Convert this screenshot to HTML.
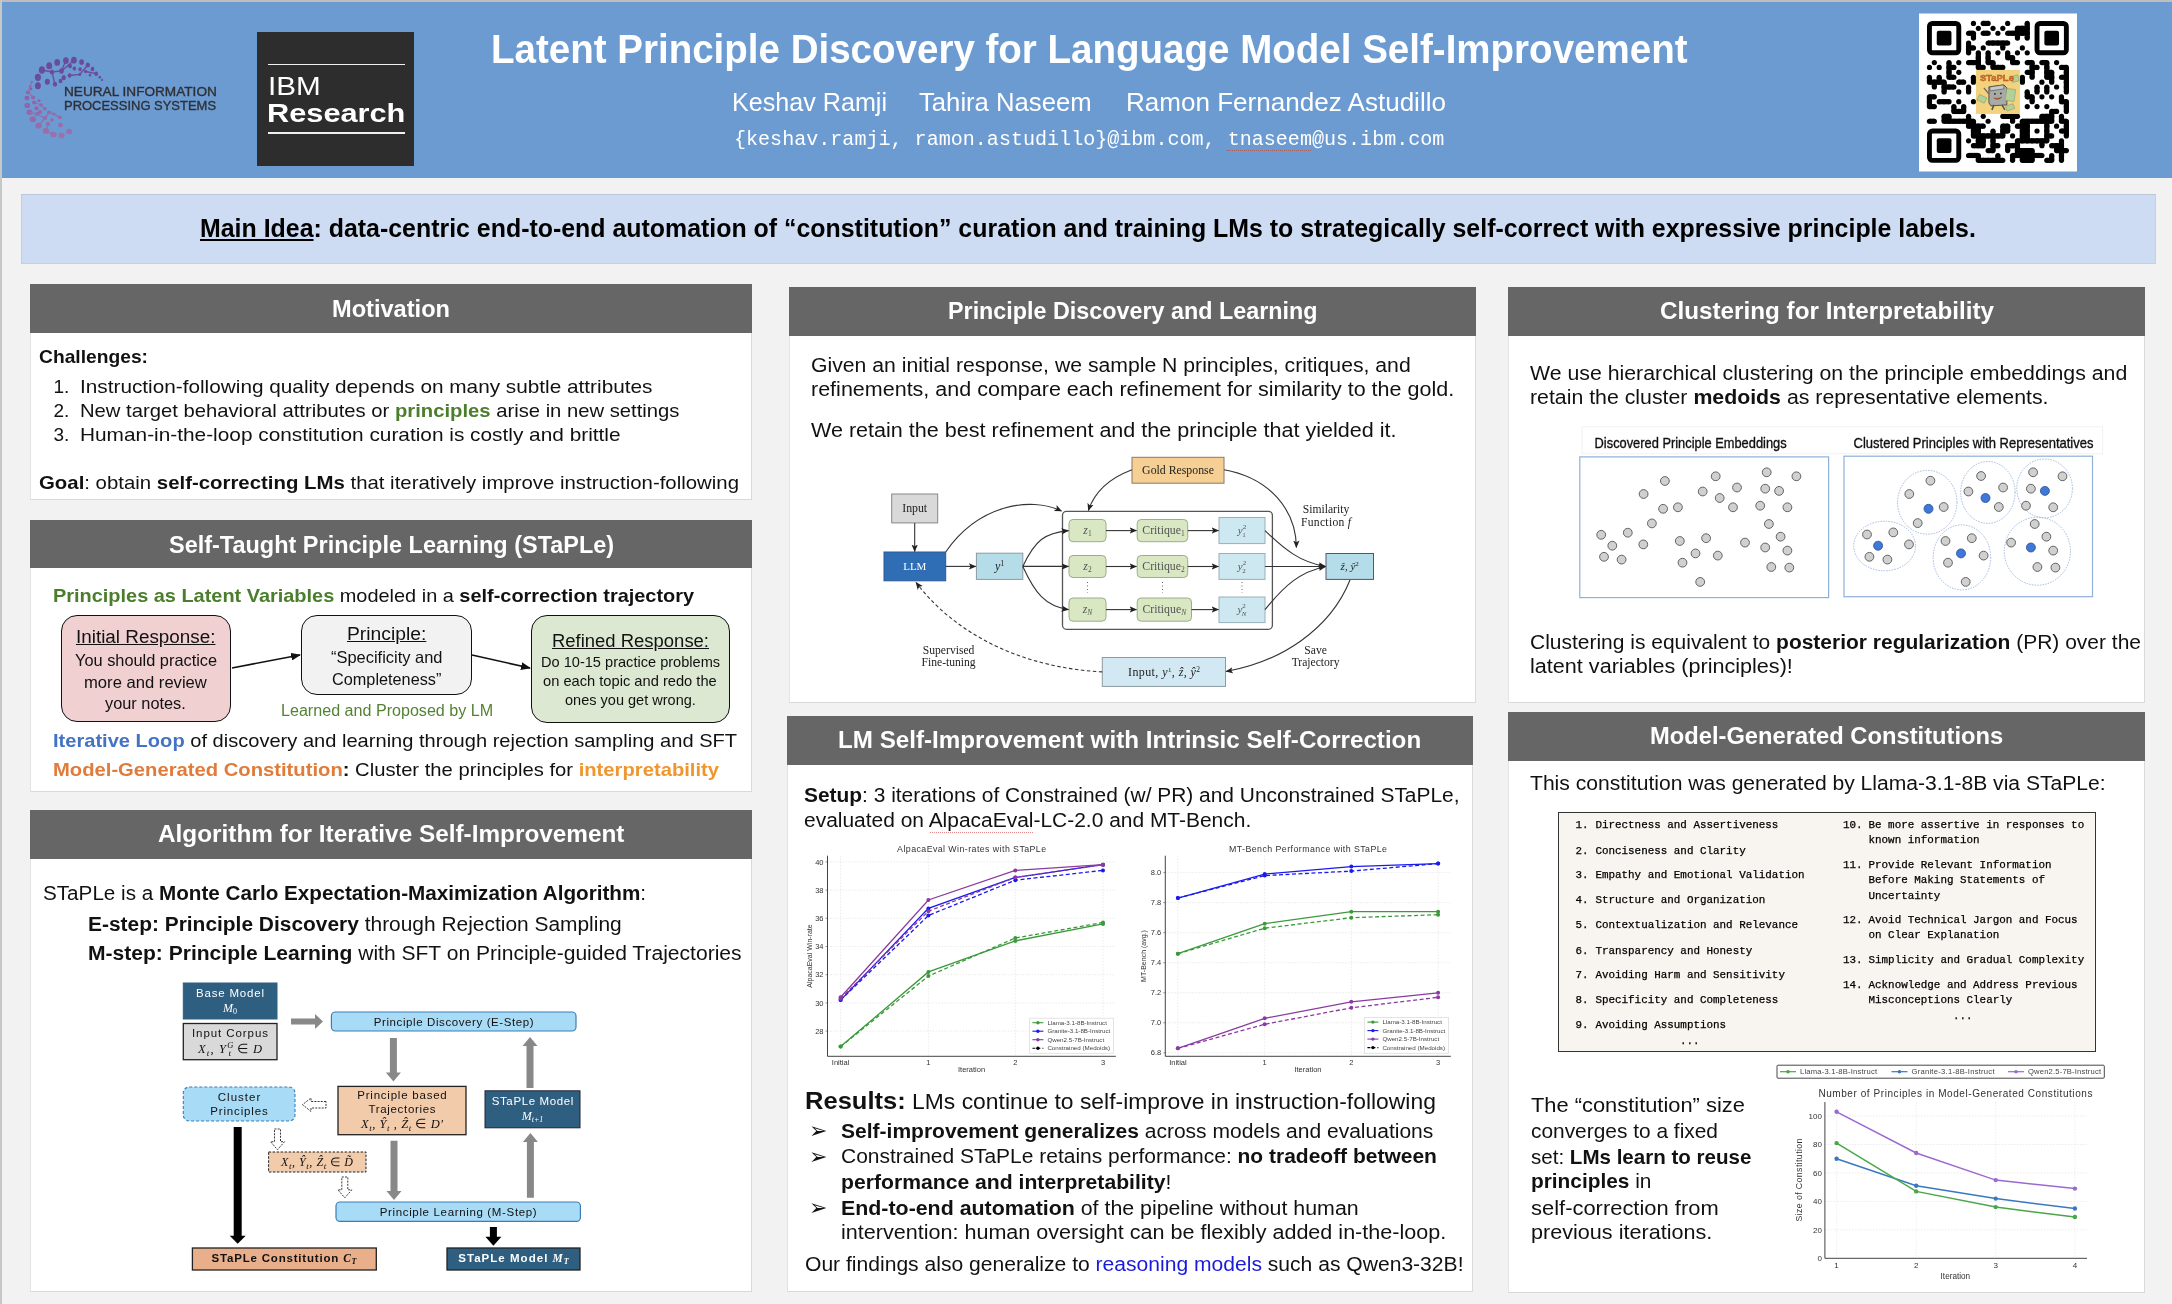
<!DOCTYPE html><html><head><meta charset="utf-8"><style>

*{margin:0;padding:0}
html,body{width:2172px;height:1304px;overflow:hidden;background:#f2f2f2;font-family:'Liberation Sans',sans-serif;color:#111}
.r{position:absolute}
.t{position:absolute;white-space:nowrap;line-height:1;transform-origin:0 0}
#wrap{position:absolute;left:0;top:0;width:2172px;height:1304px;will-change:transform}
svg{position:absolute;overflow:visible}
b{font-weight:700}
u{text-decoration:underline}

</style></head><body><div id="wrap">
<div class="r" style="left:0px;top:0px;width:2172px;height:2px;background:#bdbdbd;"></div>
<div class="r" style="left:0px;top:0px;width:2px;height:1304px;background:#c5c8c5;"></div>
<div class="r" style="left:2px;top:2px;width:2170px;height:175.6px;background:#6c9bd2;"></div>
<div class="r" style="left:21px;top:194px;width:2135px;height:70px;background:#cddbf3;border-top:1px solid #bcc6d6;border-left:1px solid #c3cde0;border-right:1px solid #c3d0e8;border-bottom:1px solid #c3d0e8;box-sizing:border-box;"></div>
<div class="r" style="left:30px;top:284px;width:722px;height:216px;background:#ffffff;border-left:1.5px solid #e4e4e4;border-top:1px solid #e4e4e4;border-right:1.5px solid #dadada;border-bottom:1.5px solid #d9d9d9;box-sizing:border-box;"></div>
<div class="r" style="left:30px;top:284px;width:722px;height:49px;background:#666666;"></div>
<div class="r" style="left:30px;top:520px;width:722px;height:272px;background:#ffffff;border-left:1.5px solid #e4e4e4;border-top:1px solid #e4e4e4;border-right:1.5px solid #dadada;border-bottom:1.5px solid #d9d9d9;box-sizing:border-box;"></div>
<div class="r" style="left:30px;top:520px;width:722px;height:48px;background:#666666;"></div>
<div class="r" style="left:30px;top:809.5px;width:722px;height:482.5px;background:#ffffff;border-left:1.5px solid #e4e4e4;border-top:1px solid #e4e4e4;border-right:1.5px solid #dadada;border-bottom:1.5px solid #d9d9d9;box-sizing:border-box;"></div>
<div class="r" style="left:30px;top:809.5px;width:722px;height:49.0px;background:#666666;"></div>
<div class="r" style="left:789px;top:287px;width:687px;height:415.5px;background:#ffffff;border-left:1.5px solid #e4e4e4;border-top:1px solid #e4e4e4;border-right:1.5px solid #dadada;border-bottom:1.5px solid #d9d9d9;box-sizing:border-box;"></div>
<div class="r" style="left:789px;top:287px;width:687px;height:49px;background:#666666;"></div>
<div class="r" style="left:787px;top:715.5px;width:686px;height:576.0px;background:#ffffff;border-left:1.5px solid #e4e4e4;border-top:1px solid #e4e4e4;border-right:1.5px solid #dadada;border-bottom:1.5px solid #d9d9d9;box-sizing:border-box;"></div>
<div class="r" style="left:787px;top:715.5px;width:686px;height:49.0px;background:#666666;"></div>
<div class="r" style="left:1508px;top:287px;width:637px;height:415.5px;background:#ffffff;border-left:1.5px solid #e4e4e4;border-top:1px solid #e4e4e4;border-right:1.5px solid #dadada;border-bottom:1.5px solid #d9d9d9;box-sizing:border-box;"></div>
<div class="r" style="left:1508px;top:287px;width:637px;height:48.5px;background:#666666;"></div>
<div class="r" style="left:1508px;top:712px;width:637px;height:580.5px;background:#ffffff;border-left:1.5px solid #e4e4e4;border-top:1px solid #e4e4e4;border-right:1.5px solid #dadada;border-bottom:1.5px solid #d9d9d9;box-sizing:border-box;"></div>
<div class="r" style="left:1508px;top:712px;width:637px;height:49px;background:#666666;"></div>
<div class="t" style="left:490.60px;top:28.94px;font-size:40px;font-weight:700;color:#ffffff;transform:scaleX(0.9630);">Latent Principle Discovery for Language Model Self-Improvement</div>
<div class="t" style="left:732.30px;top:89.61px;font-size:25.5px;color:#ffffff;transform:scaleX(0.9854);">Keshav Ramji</div>
<div class="t" style="left:919.20px;top:89.61px;font-size:25.5px;color:#ffffff;transform:scaleX(1.0064);">Tahira Naseem</div>
<div class="t" style="left:1125.50px;top:89.61px;font-size:25.5px;color:#ffffff;transform:scaleX(1.0214);">Ramon Fernandez Astudillo</div>
<div class="t" style="left:734.00px;top:129.67px;font-size:20px;color:#ffffff;font-family:'Liberation Mono';transform:scaleX(1.0032);">{keshav.ramji, ramon.astudillo}@ibm.com, tnaseem@us.ibm.com</div>
<div class="t" style="left:200.40px;top:216.34px;font-size:25px;font-weight:700;color:#000;transform:scaleX(0.9964);"><u>Main Idea</u>: data-centric end-to-end automation of “constitution” curation and training LMs to strategically self-correct with expressive principle labels.</div>
<div class="t" style="left:331.90px;top:296.56px;font-size:24.5px;font-weight:700;color:#ffffff;transform:scaleX(0.9634);">Motivation</div>
<div class="t" style="left:168.50px;top:533.26px;font-size:24.5px;font-weight:700;color:#ffffff;transform:scaleX(0.9581);">Self-Taught Principle Learning (STaPLe)</div>
<div class="t" style="left:158.00px;top:821.86px;font-size:24.5px;font-weight:700;color:#ffffff;transform:scaleX(0.9932);">Algorithm for Iterative Self-Improvement</div>
<div class="t" style="left:947.70px;top:299.26px;font-size:24.5px;font-weight:700;color:#ffffff;transform:scaleX(0.9521);">Principle Discovery and Learning</div>
<div class="t" style="left:838.00px;top:728.26px;font-size:24.5px;font-weight:700;color:#ffffff;transform:scaleX(0.9871);">LM Self-Improvement with Intrinsic Self-Correction</div>
<div class="t" style="left:1659.50px;top:299.26px;font-size:24.5px;font-weight:700;color:#ffffff;transform:scaleX(0.9893);">Clustering for Interpretability</div>
<div class="t" style="left:1650.00px;top:724.26px;font-size:24.5px;font-weight:700;color:#ffffff;transform:scaleX(0.9682);">Model-Generated Constitutions</div>
<div class="t" style="left:39.40px;top:346.92px;font-size:19px;font-weight:700;color:#111111;transform:scaleX(1.0120);">Challenges:</div>
<div class="t" style="left:53.50px;top:376.92px;font-size:19px;color:#111111;">1.</div>
<div class="t" style="left:53.50px;top:400.92px;font-size:19px;color:#111111;">2.</div>
<div class="t" style="left:53.50px;top:424.92px;font-size:19px;color:#111111;">3.</div>
<div class="t" style="left:79.70px;top:376.92px;font-size:19px;color:#111111;transform:scaleX(1.0927);">Instruction-following quality depends on many subtle attributes</div>
<div class="t" style="left:79.70px;top:400.92px;font-size:19px;color:#111111;transform:scaleX(1.0650);">New target behavioral attributes or <b style="color:#4a7d2c">principles</b> arise in new settings</div>
<div class="t" style="left:79.70px;top:424.92px;font-size:19px;color:#111111;transform:scaleX(1.0961);">Human-in-the-loop constitution curation is costly and brittle</div>
<div class="t" style="left:39.40px;top:472.62px;font-size:19px;color:#111111;transform:scaleX(1.0726);"><b>Goal</b>: obtain <b>self-correcting LMs</b> that iteratively improve instruction-following</div>
<div class="t" style="left:52.70px;top:585.92px;font-size:19px;color:#111111;transform:scaleX(1.0484);"><b style="color:#4a7d2c">Principles as Latent Variables</b> modeled in a <b>self-correction trajectory</b></div>
<div class="t" style="left:52.70px;top:730.92px;font-size:19px;color:#111111;transform:scaleX(1.0567);"><b style="color:#4472c4">Iterative Loop</b> of discovery and learning through rejection sampling and SFT</div>
<div class="t" style="left:52.70px;top:759.92px;font-size:19px;color:#111111;transform:scaleX(1.0639);"><b style="color:#e07b39">Model-Generated Constitution</b><b>:</b> Cluster the principles for <b style="color:#f0962e">interpretability</b></div>
<div class="r" style="left:61px;top:614.5px;width:170px;height:107.5px;background:#f0d0d0;border:1.5px solid #111;box-sizing:border-box;border-radius:16px;"></div>
<div class="r" style="left:301px;top:615px;width:171px;height:79.5px;background:#f2f2f2;border:1.5px solid #111;box-sizing:border-box;border-radius:16px;"></div>
<div class="r" style="left:531px;top:615px;width:199px;height:107.5px;background:#dde8d2;border:1.5px solid #111;box-sizing:border-box;border-radius:16px;"></div>
<svg style="left:0;top:0" width="1" height="1"><defs><marker id="ah" markerWidth="10" markerHeight="8" refX="9" refY="4" orient="auto" markerUnits="userSpaceOnUse"><path d="M0,0 L10,4 L0,8 z" fill="#111"/></marker></defs><line x1="232" y1="668" x2="300" y2="655" stroke="#111" stroke-width="1.6" marker-end="url(#ah)"/><line x1="472" y1="655" x2="530" y2="668" stroke="#111" stroke-width="1.6" marker-end="url(#ah)"/></svg>
<div class="t" style="left:76.20px;top:628.06px;font-size:18px;color:#111111;transform:scaleX(1.0481);"><u>Initial Response:</u></div>
<div class="t" style="left:75.00px;top:651.63px;font-size:16.5px;color:#111111;transform:scaleX(0.9909);">You should practice</div>
<div class="t" style="left:84.40px;top:673.83px;font-size:16.5px;color:#111111;transform:scaleX(1.0074);">more and review</div>
<div class="t" style="left:105.00px;top:694.93px;font-size:16.5px;color:#111111;transform:scaleX(0.9902);">your notes.</div>
<div class="t" style="left:347.00px;top:625.46px;font-size:18px;color:#111111;transform:scaleX(1.0716);"><u>Principle:</u></div>
<div class="t" style="left:330.80px;top:648.83px;font-size:16.5px;color:#111111;transform:scaleX(0.9964);">“Specificity and</div>
<div class="t" style="left:331.50px;top:670.53px;font-size:16.5px;color:#111111;transform:scaleX(0.9856);">Completeness”</div>
<div class="t" style="left:551.80px;top:632.06px;font-size:18px;color:#111111;transform:scaleX(1.0255);"><u>Refined Response:</u></div>
<div class="t" style="left:540.80px;top:654.93px;font-size:14.5px;color:#111111;transform:scaleX(1.0056);">Do 10-15 practice problems</div>
<div class="t" style="left:543.00px;top:674.23px;font-size:14.5px;color:#111111;transform:scaleX(1.0116);">on each topic and redo the</div>
<div class="t" style="left:564.60px;top:692.93px;font-size:14.5px;color:#111111;transform:scaleX(1.0023);">ones you get wrong.</div>
<div class="t" style="left:281.00px;top:702.76px;font-size:16px;color:#548235;transform:scaleX(1.0062);">Learned and Proposed by LM</div>
<div class="t" style="left:43.00px;top:883.07px;font-size:20px;color:#111111;transform:scaleX(1.0329);">STaPLe is a <b>Monte Carlo Expectation-Maximization Algorithm</b>:</div>
<div class="t" style="left:88.00px;top:913.57px;font-size:20px;color:#111111;transform:scaleX(1.0459);"><b>E-step: Principle Discovery</b> through Rejection Sampling</div>
<div class="t" style="left:88.00px;top:943.07px;font-size:20px;color:#111111;transform:scaleX(1.0525);"><b>M-step: Principle Learning</b> with SFT on Principle-guided Trajectories</div>
<div class="t" style="left:811.00px;top:355.69px;font-size:19.5px;color:#111111;transform:scaleX(1.0870);">Given an initial response, we sample N principles, critiques, and</div>
<div class="t" style="left:811.00px;top:380.19px;font-size:19.5px;color:#111111;transform:scaleX(1.1029);">refinements, and compare each refinement for similarity to the gold.</div>
<div class="t" style="left:811.00px;top:421.49px;font-size:19.5px;color:#111111;transform:scaleX(1.1055);">We retain the best refinement and the principle that yielded it.</div>
<div class="t" style="left:804.00px;top:784.77px;font-size:20px;color:#111111;transform:scaleX(1.0455);"><b>Setup</b>: 3 iterations of Constrained (w/ PR) and Unconstrained STaPLe,</div>
<div class="t" style="left:804.00px;top:809.57px;font-size:20px;color:#111111;transform:scaleX(1.0475);">evaluated on AlpacaEval-LC-2.0 and MT-Bench.</div>
<div class="t" style="left:804.50px;top:1088.80px;font-size:21.5px;color:#111111;transform:scaleX(1.0639);"><b style="font-size:24px">Results:</b> LMs continue to self-improve in instruction-following</div>
<div class="t" style="left:809.00px;top:1120.38px;font-size:22px;color:#111111;">➢</div>
<div class="t" style="left:809.00px;top:1145.68px;font-size:22px;color:#111111;">➢</div>
<div class="t" style="left:809.00px;top:1197.38px;font-size:22px;color:#111111;">➢</div>
<div class="t" style="left:840.50px;top:1121.07px;font-size:20px;color:#111111;transform:scaleX(1.0509);"><b>Self-improvement generalizes</b> across models and evaluations</div>
<div class="t" style="left:840.50px;top:1146.37px;font-size:20px;color:#111111;transform:scaleX(1.0491);">Constrained STaPLe retains performance: <b>no tradeoff between</b></div>
<div class="t" style="left:840.50px;top:1172.47px;font-size:20px;color:#111111;transform:scaleX(1.0580);"><b>performance and interpretability</b>!</div>
<div class="t" style="left:840.50px;top:1198.07px;font-size:20px;color:#111111;transform:scaleX(1.0682);"><b>End-to-end automation</b> of the pipeline without human</div>
<div class="t" style="left:840.50px;top:1222.07px;font-size:20px;color:#111111;transform:scaleX(1.0779);">intervention: human oversight can be flexibly added in-the-loop.</div>
<div class="t" style="left:804.50px;top:1253.57px;font-size:20px;color:#111111;transform:scaleX(1.0539);">Our findings also generalize to <span style="color:#1a1adb">reasoning models</span> such as Qwen3-32B!</div>
<div class="t" style="left:1530.00px;top:362.57px;font-size:20px;color:#111111;transform:scaleX(1.0645);">We use hierarchical clustering on the principle embeddings and</div>
<div class="t" style="left:1530.00px;top:387.37px;font-size:20px;color:#111111;transform:scaleX(1.0649);">retain the cluster <b>medoids</b> as representative elements.</div>
<div class="t" style="left:1530.00px;top:631.77px;font-size:20px;color:#111111;transform:scaleX(1.0490);">Clustering is equivalent to <b>posterior regularization</b> (PR) over the</div>
<div class="t" style="left:1530.00px;top:656.47px;font-size:20px;color:#111111;transform:scaleX(1.0798);">latent variables (principles)!</div>
<div class="t" style="left:1530.00px;top:772.87px;font-size:20px;color:#111111;transform:scaleX(1.0546);">This constitution was generated by Llama-3.1-8B via STaPLe:</div>
<div class="t" style="left:1531.00px;top:1093.82px;font-size:21px;color:#111111;transform:scaleX(1.0410);">The “constitution” size</div>
<div class="t" style="left:1531.00px;top:1120.12px;font-size:21px;color:#111111;transform:scaleX(0.9947);">converges to a fixed</div>
<div class="t" style="left:1531.00px;top:1145.52px;font-size:21px;color:#111111;transform:scaleX(0.9787);">set: <b>LMs learn to reuse</b></div>
<div class="t" style="left:1531.00px;top:1170.22px;font-size:21px;color:#111111;transform:scaleX(0.9917);"><b>principles</b> in</div>
<div class="t" style="left:1531.00px;top:1196.52px;font-size:21px;color:#111111;transform:scaleX(1.0444);">self-correction from</div>
<div class="t" style="left:1531.00px;top:1221.22px;font-size:21px;color:#111111;transform:scaleX(1.0284);">previous iterations.</div>
<div class="r" style="left:1227px;top:149.5px;width:84px;height:1.2px;background:none;border-top:1.2px dotted #a86060;"></div>
<div class="r" style="left:930px;top:832px;width:103px;height:1.2px;background:none;border-top:1.2px dotted #e48a8a;"></div>
<svg style="left:0;top:0" width="2172" height="1304" viewBox="0 0 2172 1304"><defs><marker id="tk" markerWidth="8" markerHeight="8" refX="7" refY="4" orient="auto" markerUnits="userSpaceOnUse"><path d="M0,0.8 L7.5,4 L0,7.2 L1.8,4 z" fill="#222"/></marker></defs><rect x="1062.5" y="511.4" width="209.9000000000001" height="117.89999999999998" rx="4" fill="#fff" stroke="#555" stroke-width="1.3"/><rect x="1132" y="457.3" width="92" height="25.899999999999977" rx="0" fill="#f6cf94" stroke="#8a7a66" stroke-width="1"/><rect x="891.7" y="494" width="46.0" height="28.899999999999977" rx="0" fill="#d9d9d9" stroke="#888" stroke-width="1"/><rect x="884" y="552" width="61.700000000000045" height="28.799999999999955" rx="0" fill="#2f6db4" stroke="#2a5a95" stroke-width="1"/><rect x="976.4" y="553.2" width="46.39999999999998" height="26.199999999999932" rx="0" fill="#b5dde9" stroke="#8a9aa0" stroke-width="1"/><rect x="1069" y="519.5" width="37" height="22.200000000000045" rx="4" fill="#d9e8c2" stroke="#9aae88" stroke-width="1"/><rect x="1069" y="555.5" width="37" height="22.0" rx="4" fill="#d9e8c2" stroke="#9aae88" stroke-width="1"/><rect x="1069" y="598" width="37" height="23.200000000000045" rx="4" fill="#d9e8c2" stroke="#9aae88" stroke-width="1"/><rect x="1137.2" y="519.5" width="50.5" height="22.200000000000045" rx="4" fill="#d9e8c2" stroke="#9aae88" stroke-width="1"/><rect x="1137.2" y="555.5" width="50.5" height="22.0" rx="4" fill="#d9e8c2" stroke="#9aae88" stroke-width="1"/><rect x="1137.2" y="598" width="54.299999999999955" height="23.200000000000045" rx="4" fill="#d9e8c2" stroke="#9aae88" stroke-width="1"/><rect x="1219" y="517.5" width="46" height="26.100000000000023" rx="0" fill="#cde8f1" stroke="#9ab0b8" stroke-width="1"/><rect x="1219" y="553.5" width="46" height="25.899999999999977" rx="0" fill="#cde8f1" stroke="#9ab0b8" stroke-width="1"/><rect x="1219" y="597" width="46" height="25.600000000000023" rx="0" fill="#cde8f1" stroke="#9ab0b8" stroke-width="1"/><rect x="1326" y="553.5" width="47.5" height="25.899999999999977" rx="0" fill="#b5dde9" stroke="#556" stroke-width="1"/><rect x="1102.3" y="657.5" width="123.20000000000005" height="28.899999999999977" rx="0" fill="#d2e9f3" stroke="#8a9aa0" stroke-width="1"/><line x1="1087.5" y1="582" x2="1087.5" y2="593" stroke="#666" stroke-width="1" stroke-dasharray="1,2.5"/><line x1="1162.5" y1="582" x2="1162.5" y2="593" stroke="#666" stroke-width="1" stroke-dasharray="1,2.5"/><line x1="1242" y1="582" x2="1242" y2="593" stroke="#666" stroke-width="1" stroke-dasharray="1,2.5"/><text x="1178" y="473.5" font-family="Liberation Serif" font-size="11.8" fill="#222" text-anchor="middle" font-weight="400" >Gold Response</text><text x="914.7" y="511.5" font-family="Liberation Serif" font-size="11.8" fill="#222" text-anchor="middle" font-weight="400" >Input</text><text x="914.8" y="570" font-family="Liberation Serif" font-size="11" fill="#fff" text-anchor="middle" font-weight="400" >LLM</text><text x="999.6" y="569.5" font-family="Liberation Serif" font-size="12" fill="#222" text-anchor="middle" font-weight="400" ><tspan font-style="italic">y</tspan><tspan font-size="8" dy="-4">1</tspan></text><text x="1087.5" y="534.1" font-family="Liberation Serif" font-size="11.8" fill="#555" text-anchor="middle" font-weight="400" ><tspan font-style="italic">z</tspan><tspan font-size="7.5" dy="2">1</tspan></text><text x="1163.5" y="534.1" font-family="Liberation Serif" font-size="11.8" fill="#555" text-anchor="middle" font-weight="400" >Critique<tspan font-size="7.5" dy="2">1</tspan></text><text x="1087.5" y="570.0" font-family="Liberation Serif" font-size="11.8" fill="#555" text-anchor="middle" font-weight="400" ><tspan font-style="italic">z</tspan><tspan font-size="7.5" dy="2">2</tspan></text><text x="1163.5" y="570.0" font-family="Liberation Serif" font-size="11.8" fill="#555" text-anchor="middle" font-weight="400" >Critique<tspan font-size="7.5" dy="2">2</tspan></text><text x="1087.5" y="613.1" font-family="Liberation Serif" font-size="11.8" fill="#555" text-anchor="middle" font-weight="400" ><tspan font-style="italic">z</tspan><tspan font-size="7.5" dy="2" font-style="italic">N</tspan></text><text x="1164.3" y="613.1" font-family="Liberation Serif" font-size="11.8" fill="#555" text-anchor="middle" font-weight="400" >Critique<tspan font-size="7.5" dy="2" font-style="italic">N</tspan></text><text x="1242" y="534.1" font-family="Liberation Serif" font-size="11" fill="#555" text-anchor="middle" font-weight="400" ><tspan font-style="italic">y</tspan><tspan font-size="7" dy="-5">2</tspan><tspan font-size="7" dx="-4" dy="8">1</tspan></text><text x="1242" y="570.0" font-family="Liberation Serif" font-size="11" fill="#555" text-anchor="middle" font-weight="400" ><tspan font-style="italic">y</tspan><tspan font-size="7" dy="-5">2</tspan><tspan font-size="7" dx="-4" dy="8">2</tspan></text><text x="1242" y="613.3" font-family="Liberation Serif" font-size="11" fill="#555" text-anchor="middle" font-weight="400" ><tspan font-style="italic">y</tspan><tspan font-size="7" dy="-5">2</tspan><tspan font-size="7" dx="-4" dy="8" font-style="italic">N</tspan></text><text x="1349.7" y="569.5" font-family="Liberation Serif" font-size="11" fill="#222" text-anchor="middle" font-weight="400" ><tspan font-style="italic">ẑ</tspan>, <tspan font-style="italic">ŷ</tspan><tspan font-size="7" dy="-4">2</tspan></text><text x="1164" y="675.5" font-family="Liberation Serif" font-size="12" fill="#222" text-anchor="middle" font-weight="400" textLength="72">Input, <tspan font-style="italic">y</tspan><tspan font-size="7" dy="-4">1</tspan><tspan dy="4">, </tspan><tspan font-style="italic">ẑ</tspan>, <tspan font-style="italic">ŷ</tspan><tspan font-size="7.5" dy="-4">2</tspan></text><text x="1326" y="513.3" font-family="Liberation Serif" font-size="11.6" fill="#222" text-anchor="middle" font-weight="400" >Similarity</text><text x="1326" y="525.7" font-family="Liberation Serif" font-size="11.6" fill="#222" text-anchor="middle" font-weight="400" textLength="50">Function <tspan font-style="italic">f</tspan></text><text x="1315.6" y="653.6" font-family="Liberation Serif" font-size="11.6" fill="#222" text-anchor="middle" font-weight="400" >Save</text><text x="1315.6" y="665.7" font-family="Liberation Serif" font-size="11.6" fill="#222" text-anchor="middle" font-weight="400" >Trajectory</text><text x="948.6" y="654" font-family="Liberation Serif" font-size="11.6" fill="#222" text-anchor="middle" font-weight="400" >Supervised</text><text x="948.6" y="666" font-family="Liberation Serif" font-size="11.6" fill="#222" text-anchor="middle" font-weight="400" >Fine-tuning</text><path d="M914.7,523 L914.7,551.5" stroke="#333" stroke-width="1.1" fill="none" marker-end="url(#tk)"/><path d="M945.7,566.4 L975.8,566.4" stroke="#333" stroke-width="1.1" fill="none" marker-end="url(#tk)"/><path d="M945.7,552 C978,505 1030,496 1061.5,511" stroke="#333" stroke-width="1.1" fill="none" marker-end="url(#tk)"/><path d="M1022.8,566.4 C1035,540 1045,533 1068.5,530.6" stroke="#333" stroke-width="1.1" fill="none" marker-end="url(#tk)"/><path d="M1022.8,566.4 L1068.5,566.4" stroke="#333" stroke-width="1.1" fill="none" marker-end="url(#tk)"/><path d="M1022.8,566.4 C1035,593 1045,606 1068.5,609.6" stroke="#333" stroke-width="1.1" fill="none" marker-end="url(#tk)"/><path d="M1106,530.6 L1136.5,530.6" stroke="#333" stroke-width="1.1" fill="none" marker-end="url(#tk)"/><path d="M1106,566.5 L1136.5,566.5" stroke="#333" stroke-width="1.1" fill="none" marker-end="url(#tk)"/><path d="M1106,609.6 L1136.5,609.6" stroke="#333" stroke-width="1.1" fill="none" marker-end="url(#tk)"/><path d="M1187.7,530.6 L1218.5,530.6" stroke="#333" stroke-width="1.1" fill="none" marker-end="url(#tk)"/><path d="M1187.7,566.5 L1218.5,566.5" stroke="#333" stroke-width="1.1" fill="none" marker-end="url(#tk)"/><path d="M1191.5,609.6 L1218.5,609.6" stroke="#333" stroke-width="1.1" fill="none" marker-end="url(#tk)"/><path d="M1265,530.6 C1285,550 1300,562 1325.5,566.5" stroke="#333" stroke-width="1.1" fill="none" marker-end="url(#tk)"/><path d="M1265,566.5 L1325.5,566.5" stroke="#333" stroke-width="1.1" fill="none" marker-end="url(#tk)"/><path d="M1265,609.6 C1285,585 1300,572 1325.5,566.5" stroke="#333" stroke-width="1.1" fill="none" marker-end="url(#tk)"/><path d="M1132,469.7 C1110,478 1095,490 1088.4,510.5" stroke="#333" stroke-width="1.1" fill="none" marker-end="url(#tk)"/><path d="M1224,469.7 C1270,478 1296,510 1296.4,547.5" stroke="#333" stroke-width="1.1" fill="none" marker-end="url(#tk)"/><path d="M1350,580 C1330,630 1280,662 1226,671.5" stroke="#333" stroke-width="1.1" fill="none" marker-end="url(#tk)"/><path d="M1102.3,671.9 C1030,668 960,640 916,582.5" stroke="#333" stroke-width="1.1" fill="none" stroke-dasharray="3.5,2.5" marker-end="url(#tk)"/><rect x="183.3" y="983" width="93.69999999999999" height="36" rx="0" fill="#2e5e80" stroke="#2e5e80" stroke-width="1"/><text x="230" y="996.5" font-family="Liberation Sans" font-size="11.5" fill="#fff" text-anchor="middle" font-weight="400" textLength="68">Base Model</text><text x="230" y="1012" font-family="Liberation Sans" font-size="12" fill="#fff" text-anchor="middle" font-weight="400" ><tspan font-style="italic" font-family="Liberation Serif">M</tspan><tspan font-size="8" dy="2" font-family="Liberation Serif">0</tspan></text><rect x="183.3" y="1023.5" width="93.69999999999999" height="36.200000000000045" rx="0" fill="#d9d9d9" stroke="#222" stroke-width="1.3"/><text x="230" y="1036.8" font-family="Liberation Sans" font-size="11.5" fill="#111" text-anchor="middle" font-weight="400" textLength="76">Input Corpus</text><text x="230" y="1052.5" font-family="Liberation Serif" font-size="12.5" fill="#111" text-anchor="middle" font-weight="400" textLength="64"><tspan font-style="italic">X</tspan><tspan font-size="9" dy="3" font-style="italic">t</tspan><tspan dy="-3">, </tspan><tspan font-style="italic">Y</tspan><tspan font-size="8.5" dy="-5" font-style="italic">G</tspan><tspan font-size="9" dx="-6" dy="8" font-style="italic">t</tspan><tspan dy="-3"> ∈ </tspan><tspan font-style="italic">D</tspan></text><path d="M291,1018.5 L315,1018.5 L315,1014 L323,1021.5 L315,1029 L315,1024.5 L291,1024.5 z" fill="#888"/><rect x="331.4" y="1012" width="244.60000000000002" height="19" rx="4" fill="#a8dbf5" stroke="#3d7db8" stroke-width="1.2"/><text x="453.7" y="1025.8" font-family="Liberation Sans" font-size="11.5" fill="#111" text-anchor="middle" font-weight="400" textLength="160">Principle Discovery (E-Step)</text><path d="M389.9,1038 L396.9,1038 L396.9,1072.5 L400.9,1072.5 L393.4,1081.5 L385.9,1072.5 L389.9,1072.5 z" fill="#888"/><path d="M526.5,1088 L533.5,1088 L533.5,1046 L537.5,1046 L530,1037 L522.5,1046 L526.5,1046 z" fill="#888"/><rect x="183.3" y="1087" width="111.69999999999999" height="34" rx="6" fill="#a8dbf5" stroke="#3d7db8" stroke-width="1.1" stroke-dasharray="3,2"/><text x="239" y="1100.8" font-family="Liberation Sans" font-size="11.5" fill="#111" text-anchor="middle" font-weight="400" textLength="42.5">Cluster</text><text x="239" y="1114.5" font-family="Liberation Sans" font-size="11.5" fill="#111" text-anchor="middle" font-weight="400" textLength="57.5">Principles</text><path d="M326,1101.5 L311,1101.5 L311,1098 L302.5,1104.6 L311,1111.5 L311,1108 L326,1108 z" fill="#fff" stroke="#222" stroke-width="0.9" stroke-dasharray="2,1.2"/><rect x="338" y="1086.4" width="128" height="48.299999999999955" rx="0" fill="#f2cbab" stroke="#222" stroke-width="1.3"/><text x="402" y="1099" font-family="Liberation Sans" font-size="11.5" fill="#111" text-anchor="middle" font-weight="400" textLength="89.5">Principle based</text><text x="402" y="1112.5" font-family="Liberation Sans" font-size="11.5" fill="#111" text-anchor="middle" font-weight="400" textLength="67">Trajectories</text><text x="402" y="1128" font-family="Liberation Serif" font-size="12.5" fill="#111" text-anchor="middle" font-weight="400" textLength="82"><tspan font-style="italic">X</tspan><tspan font-size="9" dy="3" font-style="italic">t</tspan><tspan dy="-3">, </tspan><tspan font-style="italic">Ŷ</tspan><tspan font-size="9" dy="3" font-style="italic">t</tspan><tspan dy="-3"> , </tspan><tspan font-style="italic">Ẑ</tspan><tspan font-size="9" dy="3" font-style="italic">t</tspan><tspan dy="-3"> ∈ </tspan><tspan font-style="italic">D′</tspan></text><rect x="485" y="1090.8" width="95" height="37.0" rx="0" fill="#2e5e80" stroke="#223" stroke-width="1"/><text x="532.5" y="1104.5" font-family="Liberation Sans" font-size="11.5" fill="#fff" text-anchor="middle" font-weight="400" textLength="81.5">STaPLe Model</text><text x="532.5" y="1120" font-family="Liberation Sans" font-size="12" fill="#fff" text-anchor="middle" font-weight="400" ><tspan font-style="italic" font-family="Liberation Serif">M</tspan><tspan font-size="8" dy="2" font-style="italic" font-family="Liberation Serif">t+1</tspan></text><path d="M233.7,1127 L241.7,1127 L241.7,1235.7 L245.7,1235.7 L237.7,1243.7 L229.7,1235.7 L233.7,1235.7 z" fill="#000"/><path d="M274.5,1129 L280.5,1129 L280.5,1141.7 L284.5,1141.7 L277.5,1149.7 L270.5,1141.7 L274.5,1141.7 z" fill="#fff" stroke="#222" stroke-width="0.9" stroke-dasharray="2,1.2"/><rect x="268.6" y="1152" width="97.39999999999998" height="20" rx="0" fill="#f2cbab" stroke="#222" stroke-width="1" stroke-dasharray="2.5,1.5"/><text x="317" y="1166" font-family="Liberation Serif" font-size="12" fill="#111" text-anchor="middle" font-weight="400" textLength="72"><tspan font-style="italic">X</tspan><tspan font-size="9" dy="3" font-style="italic">t</tspan><tspan dy="-3">, </tspan><tspan font-style="italic">Ŷ</tspan><tspan font-size="9" dy="3" font-style="italic">t</tspan><tspan dy="-3">, </tspan><tspan font-style="italic">Ẑ</tspan><tspan font-size="9" dy="3" font-style="italic">t</tspan><tspan dy="-3"> ∈ </tspan><tspan font-style="italic">D̃</tspan></text><path d="M341.8,1177 L347.8,1177 L347.8,1189.8 L351.8,1189.8 L344.8,1197.8 L337.8,1189.8 L341.8,1189.8 z" fill="#fff" stroke="#222" stroke-width="0.9" stroke-dasharray="2,1.2"/><path d="M390.5,1140.8 L397.5,1140.8 L397.5,1191 L401.5,1191 L394,1200 L386.5,1191 L390.5,1191 z" fill="#888"/><path d="M526.9,1197.8 L533.9,1197.8 L533.9,1142 L537.9,1142 L530.4,1133 L522.9,1142 L526.9,1142 z" fill="#888"/><rect x="336" y="1202" width="244.39999999999998" height="19.40000000000009" rx="4" fill="#a8dbf5" stroke="#3d7db8" stroke-width="1.2"/><text x="458.2" y="1215.8" font-family="Liberation Sans" font-size="11.5" fill="#111" text-anchor="middle" font-weight="400" textLength="157">Principle Learning (M-Step)</text><path d="M489.9,1227 L496.9,1227 L496.9,1236.7 L501.4,1236.7 L493.4,1245.7 L485.4,1236.7 L489.9,1236.7 z" fill="#000"/><rect x="192.4" y="1248" width="183.9" height="22" rx="0" fill="#e9ae8a" stroke="#222" stroke-width="1.3"/><text x="284" y="1262" font-family="Liberation Sans" font-size="11.5" fill="#111" text-anchor="middle" font-weight="700" textLength="145">STaPLe Constitution <tspan font-style="italic" font-family="Liberation Serif">C</tspan><tspan font-size="8" dy="2" font-style="italic" font-family="Liberation Serif">T</tspan></text><rect x="447" y="1248" width="133" height="22" rx="0" fill="#2e5e80" stroke="#222" stroke-width="1.3"/><text x="513.5" y="1262" font-family="Liberation Sans" font-size="11.5" fill="#fff" text-anchor="middle" font-weight="700" textLength="110.5">STaPLe Model <tspan font-style="italic" font-family="Liberation Serif">M</tspan><tspan font-size="8" dy="2" font-style="italic" font-family="Liberation Serif">T</tspan></text></svg>
<svg style="left:0;top:0" width="2172" height="1304" viewBox="0 0 2172 1304"><line x1="827.5" y1="1031.1" x2="1115.8" y2="1031.1" stroke="#ddd" stroke-width="0.6" stroke-dasharray="1.5,1.5"/><text x="823.5" y="1033.6999999999998" font-family="Liberation Sans" font-size="7.5" fill="#333" text-anchor="end" font-weight="400" >28</text><line x1="825.5" y1="1031.1" x2="827.5" y2="1031.1" stroke="#555" stroke-width="0.6"/><line x1="827.5" y1="1002.9" x2="1115.8" y2="1002.9" stroke="#ddd" stroke-width="0.6" stroke-dasharray="1.5,1.5"/><text x="823.5" y="1005.5" font-family="Liberation Sans" font-size="7.5" fill="#333" text-anchor="end" font-weight="400" >30</text><line x1="825.5" y1="1002.9" x2="827.5" y2="1002.9" stroke="#555" stroke-width="0.6"/><line x1="827.5" y1="974.6999999999999" x2="1115.8" y2="974.6999999999999" stroke="#ddd" stroke-width="0.6" stroke-dasharray="1.5,1.5"/><text x="823.5" y="977.3" font-family="Liberation Sans" font-size="7.5" fill="#333" text-anchor="end" font-weight="400" >32</text><line x1="825.5" y1="974.6999999999999" x2="827.5" y2="974.6999999999999" stroke="#555" stroke-width="0.6"/><line x1="827.5" y1="946.5" x2="1115.8" y2="946.5" stroke="#ddd" stroke-width="0.6" stroke-dasharray="1.5,1.5"/><text x="823.5" y="949.1" font-family="Liberation Sans" font-size="7.5" fill="#333" text-anchor="end" font-weight="400" >34</text><line x1="825.5" y1="946.5" x2="827.5" y2="946.5" stroke="#555" stroke-width="0.6"/><line x1="827.5" y1="918.3" x2="1115.8" y2="918.3" stroke="#ddd" stroke-width="0.6" stroke-dasharray="1.5,1.5"/><text x="823.5" y="920.9" font-family="Liberation Sans" font-size="7.5" fill="#333" text-anchor="end" font-weight="400" >36</text><line x1="825.5" y1="918.3" x2="827.5" y2="918.3" stroke="#555" stroke-width="0.6"/><line x1="827.5" y1="890.1" x2="1115.8" y2="890.1" stroke="#ddd" stroke-width="0.6" stroke-dasharray="1.5,1.5"/><text x="823.5" y="892.7" font-family="Liberation Sans" font-size="7.5" fill="#333" text-anchor="end" font-weight="400" >38</text><line x1="825.5" y1="890.1" x2="827.5" y2="890.1" stroke="#555" stroke-width="0.6"/><line x1="827.5" y1="861.9" x2="1115.8" y2="861.9" stroke="#ddd" stroke-width="0.6" stroke-dasharray="1.5,1.5"/><text x="823.5" y="864.5" font-family="Liberation Sans" font-size="7.5" fill="#333" text-anchor="end" font-weight="400" >40</text><line x1="825.5" y1="861.9" x2="827.5" y2="861.9" stroke="#555" stroke-width="0.6"/><line x1="840.6" y1="855.7" x2="840.6" y2="1056.3" stroke="#ddd" stroke-width="0.6" stroke-dasharray="1.5,1.5"/><text x="840.6" y="1065.3" font-family="Liberation Sans" font-size="7.5" fill="#333" text-anchor="middle" font-weight="400" >Initial</text><line x1="928.4" y1="855.7" x2="928.4" y2="1056.3" stroke="#ddd" stroke-width="0.6" stroke-dasharray="1.5,1.5"/><text x="928.4" y="1065.3" font-family="Liberation Sans" font-size="7.5" fill="#333" text-anchor="middle" font-weight="400" >1</text><line x1="1015.3" y1="855.7" x2="1015.3" y2="1056.3" stroke="#ddd" stroke-width="0.6" stroke-dasharray="1.5,1.5"/><text x="1015.3" y="1065.3" font-family="Liberation Sans" font-size="7.5" fill="#333" text-anchor="middle" font-weight="400" >2</text><line x1="1103" y1="855.7" x2="1103" y2="1056.3" stroke="#ddd" stroke-width="0.6" stroke-dasharray="1.5,1.5"/><text x="1103" y="1065.3" font-family="Liberation Sans" font-size="7.5" fill="#333" text-anchor="middle" font-weight="400" >3</text><path d="M827.5,855.7 L827.5,1056.3 L1115.8,1056.3" stroke="#444" stroke-width="1" fill="none"/><polyline points="840.6,1046.6 928.4,971.9 1015.3,940.9 1103.0,923.9" fill="none" stroke="#3a9a3a" stroke-width="1.3"/><circle cx="840.6" cy="1046.6" r="2" fill="#3a9a3a"/><circle cx="928.4" cy="971.9" r="2" fill="#3a9a3a"/><circle cx="1015.3" cy="940.9" r="2" fill="#3a9a3a"/><circle cx="1103.0" cy="923.9" r="2" fill="#3a9a3a"/><polyline points="840.6,1046.6 928.4,976.1 1015.3,938.0 1103.0,922.5" fill="none" stroke="#3a9a3a" stroke-width="1.3" stroke-dasharray="4,2.5"/><circle cx="840.6" cy="1046.6" r="2" fill="#3a9a3a"/><circle cx="928.4" cy="976.1" r="2" fill="#3a9a3a"/><circle cx="1015.3" cy="938.0" r="2" fill="#3a9a3a"/><circle cx="1103.0" cy="922.5" r="2" fill="#3a9a3a"/><polyline points="840.6,1000.1 928.4,908.4 1015.3,877.4 1103.0,864.7" fill="none" stroke="#1a1aee" stroke-width="1.3"/><circle cx="840.6" cy="1000.1" r="2" fill="#1a1aee"/><circle cx="928.4" cy="908.4" r="2" fill="#1a1aee"/><circle cx="1015.3" cy="877.4" r="2" fill="#1a1aee"/><circle cx="1103.0" cy="864.7" r="2" fill="#1a1aee"/><polyline points="840.6,1000.1 928.4,915.5 1015.3,880.2 1103.0,870.4" fill="none" stroke="#1a1aee" stroke-width="1.3" stroke-dasharray="4,2.5"/><circle cx="840.6" cy="1000.1" r="2" fill="#1a1aee"/><circle cx="928.4" cy="915.5" r="2" fill="#1a1aee"/><circle cx="1015.3" cy="880.2" r="2" fill="#1a1aee"/><circle cx="1103.0" cy="870.4" r="2" fill="#1a1aee"/><polyline points="840.6,997.3 928.4,900.0 1015.3,870.4 1103.0,864.7" fill="none" stroke="#8a3aa0" stroke-width="1.3"/><circle cx="840.6" cy="997.3" r="2" fill="#8a3aa0"/><circle cx="928.4" cy="900.0" r="2" fill="#8a3aa0"/><circle cx="1015.3" cy="870.4" r="2" fill="#8a3aa0"/><circle cx="1103.0" cy="864.7" r="2" fill="#8a3aa0"/><polyline points="840.6,998.7 928.4,911.2 1015.3,877.4 1103.0,864.7" fill="none" stroke="#8a3aa0" stroke-width="1.3" stroke-dasharray="4,2.5"/><circle cx="840.6" cy="998.7" r="2" fill="#8a3aa0"/><circle cx="928.4" cy="911.2" r="2" fill="#8a3aa0"/><circle cx="1015.3" cy="877.4" r="2" fill="#8a3aa0"/><circle cx="1103.0" cy="864.7" r="2" fill="#8a3aa0"/><text x="971.6" y="852.3" font-family="Liberation Sans" font-size="8.8" fill="#333" text-anchor="middle" font-weight="400" textLength="149">AlpacaEval Win-rates with STaPLe</text><text x="812" y="956" font-family="Liberation Sans" font-size="7" fill="#333" text-anchor="middle" font-weight="400" transform="rotate(-90 812 956)">AlpacaEval Win-rate</text><text x="971.6" y="1072" font-family="Liberation Sans" font-size="7.5" fill="#333" text-anchor="middle" font-weight="400" >Iteration</text><rect x="1029.4" y="1018.2" width="84.0" height="35.09999999999991" fill="#fff" stroke="#ddd" stroke-width="0.8"/><line x1="1032.4" y1="1022.7" x2="1043.4" y2="1022.7" stroke="#3a9a3a" stroke-width="1.1"/><circle cx="1037.9" cy="1022.7" r="1.7" fill="#3a9a3a"/><text x="1047.4" y="1024.9" font-family="Liberation Sans" font-size="6.2" fill="#444" text-anchor="start" font-weight="400" >Llama-3.1-8B-Instruct</text><line x1="1032.4" y1="1031.2" x2="1043.4" y2="1031.2" stroke="#1a1aee" stroke-width="1.1"/><circle cx="1037.9" cy="1031.2" r="1.7" fill="#1a1aee"/><text x="1047.4" y="1033.4" font-family="Liberation Sans" font-size="6.2" fill="#444" text-anchor="start" font-weight="400" >Granite-3.1-8B-Instruct</text><line x1="1032.4" y1="1039.7" x2="1043.4" y2="1039.7" stroke="#8a3aa0" stroke-width="1.1"/><circle cx="1037.9" cy="1039.7" r="1.7" fill="#8a3aa0"/><text x="1047.4" y="1041.9" font-family="Liberation Sans" font-size="6.2" fill="#444" text-anchor="start" font-weight="400" >Qwen2.5-7B-Instruct</text><line x1="1032.4" y1="1048.2" x2="1043.4" y2="1048.2" stroke="#000" stroke-width="1.1" stroke-dasharray="3,2"/><circle cx="1037.9" cy="1048.2" r="1.7" fill="#000"/><text x="1047.4" y="1050.4" font-family="Liberation Sans" font-size="6.2" fill="#444" text-anchor="start" font-weight="400" >Constrained (Medoids)</text><line x1="1165.3" y1="1052.8400000000001" x2="1450.8" y2="1052.8400000000001" stroke="#ddd" stroke-width="0.6" stroke-dasharray="1.5,1.5"/><text x="1161.3" y="1055.44" font-family="Liberation Sans" font-size="7.5" fill="#333" text-anchor="end" font-weight="400" >6.8</text><line x1="1163.3" y1="1052.8400000000001" x2="1165.3" y2="1052.8400000000001" stroke="#555" stroke-width="0.6"/><line x1="1165.3" y1="1022.8" x2="1450.8" y2="1022.8" stroke="#ddd" stroke-width="0.6" stroke-dasharray="1.5,1.5"/><text x="1161.3" y="1025.3999999999999" font-family="Liberation Sans" font-size="7.5" fill="#333" text-anchor="end" font-weight="400" >7.0</text><line x1="1163.3" y1="1022.8" x2="1165.3" y2="1022.8" stroke="#555" stroke-width="0.6"/><line x1="1165.3" y1="992.76" x2="1450.8" y2="992.76" stroke="#ddd" stroke-width="0.6" stroke-dasharray="1.5,1.5"/><text x="1161.3" y="995.36" font-family="Liberation Sans" font-size="7.5" fill="#333" text-anchor="end" font-weight="400" >7.2</text><line x1="1163.3" y1="992.76" x2="1165.3" y2="992.76" stroke="#555" stroke-width="0.6"/><line x1="1165.3" y1="962.7199999999999" x2="1450.8" y2="962.7199999999999" stroke="#ddd" stroke-width="0.6" stroke-dasharray="1.5,1.5"/><text x="1161.3" y="965.3199999999999" font-family="Liberation Sans" font-size="7.5" fill="#333" text-anchor="end" font-weight="400" >7.4</text><line x1="1163.3" y1="962.7199999999999" x2="1165.3" y2="962.7199999999999" stroke="#555" stroke-width="0.6"/><line x1="1165.3" y1="932.6800000000001" x2="1450.8" y2="932.6800000000001" stroke="#ddd" stroke-width="0.6" stroke-dasharray="1.5,1.5"/><text x="1161.3" y="935.2800000000001" font-family="Liberation Sans" font-size="7.5" fill="#333" text-anchor="end" font-weight="400" >7.6</text><line x1="1163.3" y1="932.6800000000001" x2="1165.3" y2="932.6800000000001" stroke="#555" stroke-width="0.6"/><line x1="1165.3" y1="902.6400000000001" x2="1450.8" y2="902.6400000000001" stroke="#ddd" stroke-width="0.6" stroke-dasharray="1.5,1.5"/><text x="1161.3" y="905.2400000000001" font-family="Liberation Sans" font-size="7.5" fill="#333" text-anchor="end" font-weight="400" >7.8</text><line x1="1163.3" y1="902.6400000000001" x2="1165.3" y2="902.6400000000001" stroke="#555" stroke-width="0.6"/><line x1="1165.3" y1="872.6" x2="1450.8" y2="872.6" stroke="#ddd" stroke-width="0.6" stroke-dasharray="1.5,1.5"/><text x="1161.3" y="875.2" font-family="Liberation Sans" font-size="7.5" fill="#333" text-anchor="end" font-weight="400" >8.0</text><line x1="1163.3" y1="872.6" x2="1165.3" y2="872.6" stroke="#555" stroke-width="0.6"/><line x1="1177.9" y1="855.7" x2="1177.9" y2="1056.3" stroke="#ddd" stroke-width="0.6" stroke-dasharray="1.5,1.5"/><text x="1177.9" y="1065.3" font-family="Liberation Sans" font-size="7.5" fill="#333" text-anchor="middle" font-weight="400" >Initial</text><line x1="1264.7" y1="855.7" x2="1264.7" y2="1056.3" stroke="#ddd" stroke-width="0.6" stroke-dasharray="1.5,1.5"/><text x="1264.7" y="1065.3" font-family="Liberation Sans" font-size="7.5" fill="#333" text-anchor="middle" font-weight="400" >1</text><line x1="1351.3" y1="855.7" x2="1351.3" y2="1056.3" stroke="#ddd" stroke-width="0.6" stroke-dasharray="1.5,1.5"/><text x="1351.3" y="1065.3" font-family="Liberation Sans" font-size="7.5" fill="#333" text-anchor="middle" font-weight="400" >2</text><line x1="1438.1" y1="855.7" x2="1438.1" y2="1056.3" stroke="#ddd" stroke-width="0.6" stroke-dasharray="1.5,1.5"/><text x="1438.1" y="1065.3" font-family="Liberation Sans" font-size="7.5" fill="#333" text-anchor="middle" font-weight="400" >3</text><path d="M1165.3,855.7 L1165.3,1056.3 L1450.8,1056.3" stroke="#444" stroke-width="1" fill="none"/><polyline points="1177.9,898.1 1264.7,874.1 1351.3,866.6 1438.1,863.6" fill="none" stroke="#1a1aee" stroke-width="1.3"/><circle cx="1177.9" cy="898.1" r="2" fill="#1a1aee"/><circle cx="1264.7" cy="874.1" r="2" fill="#1a1aee"/><circle cx="1351.3" cy="866.6" r="2" fill="#1a1aee"/><circle cx="1438.1" cy="863.6" r="2" fill="#1a1aee"/><polyline points="1177.9,898.1 1264.7,875.6 1351.3,871.1 1438.1,863.6" fill="none" stroke="#1a1aee" stroke-width="1.3" stroke-dasharray="4,2.5"/><circle cx="1177.9" cy="898.1" r="2" fill="#1a1aee"/><circle cx="1264.7" cy="875.6" r="2" fill="#1a1aee"/><circle cx="1351.3" cy="871.1" r="2" fill="#1a1aee"/><circle cx="1438.1" cy="863.6" r="2" fill="#1a1aee"/><polyline points="1177.9,953.7 1264.7,923.7 1351.3,911.7 1438.1,911.7" fill="none" stroke="#3a9a3a" stroke-width="1.3"/><circle cx="1177.9" cy="953.7" r="2" fill="#3a9a3a"/><circle cx="1264.7" cy="923.7" r="2" fill="#3a9a3a"/><circle cx="1351.3" cy="911.7" r="2" fill="#3a9a3a"/><circle cx="1438.1" cy="911.7" r="2" fill="#3a9a3a"/><polyline points="1177.9,953.7 1264.7,928.2 1351.3,917.7 1438.1,914.7" fill="none" stroke="#3a9a3a" stroke-width="1.3" stroke-dasharray="4,2.5"/><circle cx="1177.9" cy="953.7" r="2" fill="#3a9a3a"/><circle cx="1264.7" cy="928.2" r="2" fill="#3a9a3a"/><circle cx="1351.3" cy="917.7" r="2" fill="#3a9a3a"/><circle cx="1438.1" cy="914.7" r="2" fill="#3a9a3a"/><polyline points="1177.9,1048.3 1264.7,1018.3 1351.3,1001.8 1438.1,992.8" fill="none" stroke="#8a3aa0" stroke-width="1.3"/><circle cx="1177.9" cy="1048.3" r="2" fill="#8a3aa0"/><circle cx="1264.7" cy="1018.3" r="2" fill="#8a3aa0"/><circle cx="1351.3" cy="1001.8" r="2" fill="#8a3aa0"/><circle cx="1438.1" cy="992.8" r="2" fill="#8a3aa0"/><polyline points="1177.9,1048.3 1264.7,1024.3 1351.3,1007.8 1438.1,997.3" fill="none" stroke="#8a3aa0" stroke-width="1.3" stroke-dasharray="4,2.5"/><circle cx="1177.9" cy="1048.3" r="2" fill="#8a3aa0"/><circle cx="1264.7" cy="1024.3" r="2" fill="#8a3aa0"/><circle cx="1351.3" cy="1007.8" r="2" fill="#8a3aa0"/><circle cx="1438.1" cy="997.3" r="2" fill="#8a3aa0"/><text x="1308" y="852.3" font-family="Liberation Sans" font-size="8.8" fill="#333" text-anchor="middle" font-weight="400" textLength="158">MT-Bench Performance with STaPLe</text><text x="1146" y="956" font-family="Liberation Sans" font-size="7" fill="#333" text-anchor="middle" font-weight="400" transform="rotate(-90 1146 956)">MT-Bench (avg.)</text><text x="1308" y="1072" font-family="Liberation Sans" font-size="7.5" fill="#333" text-anchor="middle" font-weight="400" >Iteration</text><rect x="1364.4" y="1017.6" width="84.0" height="35.69999999999993" fill="#fff" stroke="#ddd" stroke-width="0.8"/><line x1="1367.4" y1="1022.1" x2="1378.4" y2="1022.1" stroke="#3a9a3a" stroke-width="1.1"/><circle cx="1372.9" cy="1022.1" r="1.7" fill="#3a9a3a"/><text x="1382.4" y="1024.3" font-family="Liberation Sans" font-size="6.2" fill="#444" text-anchor="start" font-weight="400" >Llama-3.1-8B-Instruct</text><line x1="1367.4" y1="1030.6" x2="1378.4" y2="1030.6" stroke="#1a1aee" stroke-width="1.1"/><circle cx="1372.9" cy="1030.6" r="1.7" fill="#1a1aee"/><text x="1382.4" y="1032.8" font-family="Liberation Sans" font-size="6.2" fill="#444" text-anchor="start" font-weight="400" >Granite-3.1-8B-Instruct</text><line x1="1367.4" y1="1039.1" x2="1378.4" y2="1039.1" stroke="#8a3aa0" stroke-width="1.1"/><circle cx="1372.9" cy="1039.1" r="1.7" fill="#8a3aa0"/><text x="1382.4" y="1041.3" font-family="Liberation Sans" font-size="6.2" fill="#444" text-anchor="start" font-weight="400" >Qwen2.5-7B-Instruct</text><line x1="1367.4" y1="1047.6" x2="1378.4" y2="1047.6" stroke="#000" stroke-width="1.1" stroke-dasharray="3,2"/><circle cx="1372.9" cy="1047.6" r="1.7" fill="#000"/><text x="1382.4" y="1049.8" font-family="Liberation Sans" font-size="6.2" fill="#444" text-anchor="start" font-weight="400" >Constrained (Medoids)</text><text x="1821.9" y="1261.1" font-family="Liberation Sans" font-size="8" fill="#333" text-anchor="end" font-weight="400" >0</text><line x1="1824.9" y1="1229.85" x2="2087" y2="1229.85" stroke="#ddd" stroke-width="0.6" stroke-dasharray="1.5,1.5"/><text x="1821.9" y="1232.6499999999999" font-family="Liberation Sans" font-size="8" fill="#333" text-anchor="end" font-weight="400" >20</text><line x1="1824.9" y1="1201.3999999999999" x2="2087" y2="1201.3999999999999" stroke="#ddd" stroke-width="0.6" stroke-dasharray="1.5,1.5"/><text x="1821.9" y="1204.1999999999998" font-family="Liberation Sans" font-size="8" fill="#333" text-anchor="end" font-weight="400" >40</text><line x1="1824.9" y1="1172.95" x2="2087" y2="1172.95" stroke="#ddd" stroke-width="0.6" stroke-dasharray="1.5,1.5"/><text x="1821.9" y="1175.75" font-family="Liberation Sans" font-size="8" fill="#333" text-anchor="end" font-weight="400" >60</text><line x1="1824.9" y1="1144.5" x2="2087" y2="1144.5" stroke="#ddd" stroke-width="0.6" stroke-dasharray="1.5,1.5"/><text x="1821.9" y="1147.3" font-family="Liberation Sans" font-size="8" fill="#333" text-anchor="end" font-weight="400" >80</text><line x1="1824.9" y1="1116.05" x2="2087" y2="1116.05" stroke="#ddd" stroke-width="0.6" stroke-dasharray="1.5,1.5"/><text x="1821.9" y="1118.85" font-family="Liberation Sans" font-size="8" fill="#333" text-anchor="end" font-weight="400" >100</text><line x1="1836.6" y1="1102" x2="1836.6" y2="1258.3" stroke="#e2e2e2" stroke-width="0.6" stroke-dasharray="1.5,1.5"/><text x="1836.6" y="1268.3" font-family="Liberation Sans" font-size="8" fill="#333" text-anchor="middle" font-weight="400" >1</text><line x1="1916.2" y1="1102" x2="1916.2" y2="1258.3" stroke="#e2e2e2" stroke-width="0.6" stroke-dasharray="1.5,1.5"/><text x="1916.2" y="1268.3" font-family="Liberation Sans" font-size="8" fill="#333" text-anchor="middle" font-weight="400" >2</text><line x1="1995.7" y1="1102" x2="1995.7" y2="1258.3" stroke="#e2e2e2" stroke-width="0.6" stroke-dasharray="1.5,1.5"/><text x="1995.7" y="1268.3" font-family="Liberation Sans" font-size="8" fill="#333" text-anchor="middle" font-weight="400" >3</text><line x1="2074.9" y1="1102" x2="2074.9" y2="1258.3" stroke="#e2e2e2" stroke-width="0.6" stroke-dasharray="1.5,1.5"/><text x="2074.9" y="1268.3" font-family="Liberation Sans" font-size="8" fill="#333" text-anchor="middle" font-weight="400" >4</text><path d="M1824.9,1102 L1824.9,1258.3 L2087,1258.3" stroke="#444" stroke-width="1" fill="none"/><polyline points="1836.6,1111.8 1916.2,1153.0 1995.7,1180.1 2074.9,1188.6" fill="none" stroke="#9a6ad0" stroke-width="1.5"/><circle cx="1836.6" cy="1111.8" r="2.2" fill="#9a6ad0"/><circle cx="1916.2" cy="1153.0" r="2.2" fill="#9a6ad0"/><circle cx="1995.7" cy="1180.1" r="2.2" fill="#9a6ad0"/><circle cx="2074.9" cy="1188.6" r="2.2" fill="#9a6ad0"/><polyline points="1836.6,1158.7 1916.2,1185.8 1995.7,1198.6 2074.9,1208.5" fill="none" stroke="#3a78c0" stroke-width="1.5"/><circle cx="1836.6" cy="1158.7" r="2.2" fill="#3a78c0"/><circle cx="1916.2" cy="1185.8" r="2.2" fill="#3a78c0"/><circle cx="1995.7" cy="1198.6" r="2.2" fill="#3a78c0"/><circle cx="2074.9" cy="1208.5" r="2.2" fill="#3a78c0"/><polyline points="1836.6,1143.1 1916.2,1191.4 1995.7,1207.1 2074.9,1217.0" fill="none" stroke="#4aa648" stroke-width="1.5"/><circle cx="1836.6" cy="1143.1" r="2.2" fill="#4aa648"/><circle cx="1916.2" cy="1191.4" r="2.2" fill="#4aa648"/><circle cx="1995.7" cy="1207.1" r="2.2" fill="#4aa648"/><circle cx="2074.9" cy="1217.0" r="2.2" fill="#4aa648"/><text x="1955.4" y="1097.4" font-family="Liberation Sans" font-size="10" fill="#333" text-anchor="middle" font-weight="400" textLength="274">Number of Principles in Model-Generated Constitutions</text><text x="1802" y="1180" font-family="Liberation Sans" font-size="8.8" fill="#333" text-anchor="middle" font-weight="400" textLength="83" transform="rotate(-90 1802 1180)">Size of Constitution</text><text x="1955.4" y="1279" font-family="Liberation Sans" font-size="8.2" fill="#333" text-anchor="middle" font-weight="400" >Iteration</text><rect x="1777" y="1065.2" width="327.3" height="13" fill="#fff" stroke="#333" stroke-width="0.9" rx="1"/><line x1="1780" y1="1071.7" x2="1796" y2="1071.7" stroke="#4aa648" stroke-width="1.2"/><circle cx="1788" cy="1071.7" r="1.8" fill="#4aa648"/><text x="1800" y="1074.3" font-family="Liberation Sans" font-size="7.6" fill="#444" text-anchor="start" font-weight="400" textLength="77">Llama-3.1-8B-Instruct</text><line x1="1891.5" y1="1071.7" x2="1907.5" y2="1071.7" stroke="#3a78c0" stroke-width="1.2"/><circle cx="1899.5" cy="1071.7" r="1.8" fill="#3a78c0"/><text x="1911.5" y="1074.3" font-family="Liberation Sans" font-size="7.6" fill="#444" text-anchor="start" font-weight="400" textLength="83">Granite-3.1-8B-Instruct</text><line x1="2008" y1="1071.7" x2="2024" y2="1071.7" stroke="#9a6ad0" stroke-width="1.2"/><circle cx="2016" cy="1071.7" r="1.8" fill="#9a6ad0"/><text x="2028" y="1074.3" font-family="Liberation Sans" font-size="7.6" fill="#444" text-anchor="start" font-weight="400" textLength="73">Qwen2.5-7B-Instruct</text><rect x="1582" y="426.8" width="520.7" height="27" fill="#fff" stroke="#eee" stroke-width="0.8"/><text x="1690.6" y="447.6" font-family="Liberation Sans" font-size="14.5" fill="#111" text-anchor="middle" font-weight="400" textLength="192" lengthAdjust="spacingAndGlyphs" stroke="#111" stroke-width="0.35">Discovered Principle Embeddings</text><text x="1973.5" y="447.6" font-family="Liberation Sans" font-size="14.5" fill="#111" text-anchor="middle" font-weight="400" textLength="240" lengthAdjust="spacingAndGlyphs" stroke="#111" stroke-width="0.35">Clustered Principles with Representatives</text><rect x="1579.8" y="456.9" width="248.8" height="140.7" fill="#fff" stroke="#8fb0d8" stroke-width="1.2"/><rect x="1844" y="456.2" width="248.5" height="140.5" fill="#fff" stroke="#8fb0d8" stroke-width="1.2"/><ellipse cx="1927.3" cy="502.3" rx="29.7" ry="31.9" fill="none" stroke="#8aa8d8" stroke-width="0.8" stroke-dasharray="1.5,1.2"/><ellipse cx="1987.9" cy="492.4" rx="27.2" ry="30.9" fill="none" stroke="#8aa8d8" stroke-width="0.8" stroke-dasharray="1.5,1.2"/><ellipse cx="2044.6" cy="488.4" rx="27.8" ry="29.4" fill="none" stroke="#8aa8d8" stroke-width="0.8" stroke-dasharray="1.5,1.2"/><ellipse cx="1884.6" cy="546.0" rx="30.9" ry="24.8" fill="none" stroke="#8aa8d8" stroke-width="0.8" stroke-dasharray="1.5,1.2"/><ellipse cx="1961.9" cy="557.4" rx="28.8" ry="32.5" fill="none" stroke="#8aa8d8" stroke-width="0.8" stroke-dasharray="1.5,1.2"/><ellipse cx="2037.4" cy="551.2" rx="33.1" ry="34.0" fill="none" stroke="#8aa8d8" stroke-width="0.8" stroke-dasharray="1.5,1.2"/><circle cx="1664.9" cy="481.0" r="4.4" fill="#d0d0d0" stroke="#555" stroke-width="0.9"/><circle cx="1715.7" cy="476.3" r="4.4" fill="#d0d0d0" stroke="#555" stroke-width="0.9"/><circle cx="1766.7" cy="472.3" r="4.4" fill="#d0d0d0" stroke="#555" stroke-width="0.9"/><circle cx="1796.4" cy="476.3" r="4.4" fill="#d0d0d0" stroke="#555" stroke-width="0.9"/><circle cx="1643.6" cy="494.0" r="4.4" fill="#d0d0d0" stroke="#555" stroke-width="0.9"/><circle cx="1702.7" cy="491.5" r="4.4" fill="#d0d0d0" stroke="#555" stroke-width="0.9"/><circle cx="1737.0" cy="487.5" r="4.4" fill="#d0d0d0" stroke="#555" stroke-width="0.9"/><circle cx="1765.2" cy="488.7" r="4.4" fill="#d0d0d0" stroke="#555" stroke-width="0.9"/><circle cx="1779.1" cy="490.9" r="4.4" fill="#d0d0d0" stroke="#555" stroke-width="0.9"/><circle cx="1719.7" cy="498.0" r="4.4" fill="#d0d0d0" stroke="#555" stroke-width="0.9"/><circle cx="1663.1" cy="508.8" r="4.4" fill="#d0d0d0" stroke="#555" stroke-width="0.9"/><circle cx="1677.9" cy="507.3" r="4.4" fill="#d0d0d0" stroke="#555" stroke-width="0.9"/><circle cx="1733.0" cy="507.3" r="4.4" fill="#d0d0d0" stroke="#555" stroke-width="0.9"/><circle cx="1760.2" cy="505.7" r="4.4" fill="#d0d0d0" stroke="#555" stroke-width="0.9"/><circle cx="1787.4" cy="507.3" r="4.4" fill="#d0d0d0" stroke="#555" stroke-width="0.9"/><circle cx="1651.9" cy="523.4" r="4.4" fill="#d0d0d0" stroke="#555" stroke-width="0.9"/><circle cx="1768.9" cy="524.0" r="4.4" fill="#d0d0d0" stroke="#555" stroke-width="0.9"/><circle cx="1601.2" cy="534.8" r="4.4" fill="#d0d0d0" stroke="#555" stroke-width="0.9"/><circle cx="1627.8" cy="532.7" r="4.4" fill="#d0d0d0" stroke="#555" stroke-width="0.9"/><circle cx="1612.3" cy="545.7" r="4.4" fill="#d0d0d0" stroke="#555" stroke-width="0.9"/><circle cx="1643.3" cy="544.4" r="4.4" fill="#d0d0d0" stroke="#555" stroke-width="0.9"/><circle cx="1679.8" cy="541.0" r="4.4" fill="#d0d0d0" stroke="#555" stroke-width="0.9"/><circle cx="1706.1" cy="538.2" r="4.4" fill="#d0d0d0" stroke="#555" stroke-width="0.9"/><circle cx="1745.0" cy="542.6" r="4.4" fill="#d0d0d0" stroke="#555" stroke-width="0.9"/><circle cx="1780.6" cy="536.7" r="4.4" fill="#d0d0d0" stroke="#555" stroke-width="0.9"/><circle cx="1765.2" cy="547.5" r="4.4" fill="#d0d0d0" stroke="#555" stroke-width="0.9"/><circle cx="1787.4" cy="550.6" r="4.4" fill="#d0d0d0" stroke="#555" stroke-width="0.9"/><circle cx="1604.0" cy="556.8" r="4.4" fill="#d0d0d0" stroke="#555" stroke-width="0.9"/><circle cx="1621.6" cy="559.6" r="4.4" fill="#d0d0d0" stroke="#555" stroke-width="0.9"/><circle cx="1682.5" cy="562.7" r="4.4" fill="#d0d0d0" stroke="#555" stroke-width="0.9"/><circle cx="1695.5" cy="553.4" r="4.4" fill="#d0d0d0" stroke="#555" stroke-width="0.9"/><circle cx="1717.8" cy="555.6" r="4.4" fill="#d0d0d0" stroke="#555" stroke-width="0.9"/><circle cx="1771.3" cy="567.0" r="4.4" fill="#d0d0d0" stroke="#555" stroke-width="0.9"/><circle cx="1789.3" cy="567.6" r="4.4" fill="#d0d0d0" stroke="#555" stroke-width="0.9"/><circle cx="1700.2" cy="581.9" r="4.4" fill="#d0d0d0" stroke="#555" stroke-width="0.9"/><circle cx="1930.4" cy="480.7" r="4.4" fill="#d0d0d0" stroke="#555" stroke-width="0.9"/><circle cx="1909.3" cy="494.0" r="4.4" fill="#d0d0d0" stroke="#555" stroke-width="0.9"/><circle cx="1943.7" cy="507.0" r="4.4" fill="#d0d0d0" stroke="#555" stroke-width="0.9"/><circle cx="1917.7" cy="523.1" r="4.4" fill="#d0d0d0" stroke="#555" stroke-width="0.9"/><circle cx="1981.1" cy="476.0" r="4.4" fill="#d0d0d0" stroke="#555" stroke-width="0.9"/><circle cx="1968.4" cy="491.5" r="4.4" fill="#d0d0d0" stroke="#555" stroke-width="0.9"/><circle cx="2003.1" cy="487.5" r="4.4" fill="#d0d0d0" stroke="#555" stroke-width="0.9"/><circle cx="1998.8" cy="507.0" r="4.4" fill="#d0d0d0" stroke="#555" stroke-width="0.9"/><circle cx="2033.1" cy="472.3" r="4.4" fill="#d0d0d0" stroke="#555" stroke-width="0.9"/><circle cx="2062.5" cy="476.3" r="4.4" fill="#d0d0d0" stroke="#555" stroke-width="0.9"/><circle cx="2030.9" cy="488.7" r="4.4" fill="#d0d0d0" stroke="#555" stroke-width="0.9"/><circle cx="2026.0" cy="505.7" r="4.4" fill="#d0d0d0" stroke="#555" stroke-width="0.9"/><circle cx="2053.2" cy="507.3" r="4.4" fill="#d0d0d0" stroke="#555" stroke-width="0.9"/><circle cx="1867.0" cy="534.5" r="4.4" fill="#d0d0d0" stroke="#555" stroke-width="0.9"/><circle cx="1893.3" cy="532.4" r="4.4" fill="#d0d0d0" stroke="#555" stroke-width="0.9"/><circle cx="1909.0" cy="544.4" r="4.4" fill="#d0d0d0" stroke="#555" stroke-width="0.9"/><circle cx="1869.4" cy="556.8" r="4.4" fill="#d0d0d0" stroke="#555" stroke-width="0.9"/><circle cx="1887.4" cy="559.6" r="4.4" fill="#d0d0d0" stroke="#555" stroke-width="0.9"/><circle cx="1945.5" cy="541.0" r="4.4" fill="#d0d0d0" stroke="#555" stroke-width="0.9"/><circle cx="1971.8" cy="538.2" r="4.4" fill="#d0d0d0" stroke="#555" stroke-width="0.9"/><circle cx="1983.6" cy="555.6" r="4.4" fill="#d0d0d0" stroke="#555" stroke-width="0.9"/><circle cx="1948.0" cy="562.7" r="4.4" fill="#d0d0d0" stroke="#555" stroke-width="0.9"/><circle cx="1965.7" cy="581.9" r="4.4" fill="#d0d0d0" stroke="#555" stroke-width="0.9"/><circle cx="2034.7" cy="524.0" r="4.4" fill="#d0d0d0" stroke="#555" stroke-width="0.9"/><circle cx="2011.1" cy="542.6" r="4.4" fill="#d0d0d0" stroke="#555" stroke-width="0.9"/><circle cx="2046.4" cy="536.7" r="4.4" fill="#d0d0d0" stroke="#555" stroke-width="0.9"/><circle cx="2053.2" cy="550.6" r="4.4" fill="#d0d0d0" stroke="#555" stroke-width="0.9"/><circle cx="2037.4" cy="567.0" r="4.4" fill="#d0d0d0" stroke="#555" stroke-width="0.9"/><circle cx="2055.4" cy="567.6" r="4.4" fill="#d0d0d0" stroke="#555" stroke-width="0.9"/><circle cx="1928.5" cy="508.8" r="4.5" fill="#3f78d8" stroke="#2a4f90" stroke-width="0.8"/><circle cx="1985.5" cy="498.0" r="4.5" fill="#3f78d8" stroke="#2a4f90" stroke-width="0.8"/><circle cx="2044.9" cy="490.9" r="4.5" fill="#3f78d8" stroke="#2a4f90" stroke-width="0.8"/><circle cx="1878.1" cy="545.7" r="4.5" fill="#3f78d8" stroke="#2a4f90" stroke-width="0.8"/><circle cx="1961.0" cy="553.4" r="4.5" fill="#3f78d8" stroke="#2a4f90" stroke-width="0.8"/><circle cx="2030.9" cy="547.5" r="4.5" fill="#3f78d8" stroke="#2a4f90" stroke-width="0.8"/></svg>
<div class="r" style="left:1558.2px;top:812.4px;width:537.5px;height:240px;background:#f8f5f0;border:1.5px solid #333;box-sizing:border-box;"></div>
<div class="t" style="left:1575.40px;top:819.65px;font-size:10.9px;color:#000;font-family:'Liberation Mono';-webkit-text-stroke:0.25px #000;">1.</div>
<div class="t" style="left:1595.40px;top:819.65px;font-size:10.9px;color:#000;font-family:'Liberation Mono';-webkit-text-stroke:0.25px #000;">Directness and Assertiveness</div>
<div class="t" style="left:1575.40px;top:845.55px;font-size:10.9px;color:#000;font-family:'Liberation Mono';-webkit-text-stroke:0.25px #000;">2.</div>
<div class="t" style="left:1595.40px;top:845.55px;font-size:10.9px;color:#000;font-family:'Liberation Mono';-webkit-text-stroke:0.25px #000;">Conciseness and Clarity</div>
<div class="t" style="left:1575.40px;top:870.35px;font-size:10.9px;color:#000;font-family:'Liberation Mono';-webkit-text-stroke:0.25px #000;">3.</div>
<div class="t" style="left:1595.40px;top:870.35px;font-size:10.9px;color:#000;font-family:'Liberation Mono';-webkit-text-stroke:0.25px #000;">Empathy and Emotional Validation</div>
<div class="t" style="left:1575.40px;top:895.05px;font-size:10.9px;color:#000;font-family:'Liberation Mono';-webkit-text-stroke:0.25px #000;">4.</div>
<div class="t" style="left:1595.40px;top:895.05px;font-size:10.9px;color:#000;font-family:'Liberation Mono';-webkit-text-stroke:0.25px #000;">Structure and Organization</div>
<div class="t" style="left:1575.40px;top:919.85px;font-size:10.9px;color:#000;font-family:'Liberation Mono';-webkit-text-stroke:0.25px #000;">5.</div>
<div class="t" style="left:1595.40px;top:919.85px;font-size:10.9px;color:#000;font-family:'Liberation Mono';-webkit-text-stroke:0.25px #000;">Contextualization and Relevance</div>
<div class="t" style="left:1575.40px;top:945.65px;font-size:10.9px;color:#000;font-family:'Liberation Mono';-webkit-text-stroke:0.25px #000;">6.</div>
<div class="t" style="left:1595.40px;top:945.65px;font-size:10.9px;color:#000;font-family:'Liberation Mono';-webkit-text-stroke:0.25px #000;">Transparency and Honesty</div>
<div class="t" style="left:1575.40px;top:970.25px;font-size:10.9px;color:#000;font-family:'Liberation Mono';-webkit-text-stroke:0.25px #000;">7.</div>
<div class="t" style="left:1595.40px;top:970.25px;font-size:10.9px;color:#000;font-family:'Liberation Mono';-webkit-text-stroke:0.25px #000;">Avoiding Harm and Sensitivity</div>
<div class="t" style="left:1575.40px;top:995.15px;font-size:10.9px;color:#000;font-family:'Liberation Mono';-webkit-text-stroke:0.25px #000;">8.</div>
<div class="t" style="left:1595.40px;top:995.15px;font-size:10.9px;color:#000;font-family:'Liberation Mono';-webkit-text-stroke:0.25px #000;">Specificity and Completeness</div>
<div class="t" style="left:1575.40px;top:1019.65px;font-size:10.9px;color:#000;font-family:'Liberation Mono';-webkit-text-stroke:0.25px #000;">9.</div>
<div class="t" style="left:1595.40px;top:1019.65px;font-size:10.9px;color:#000;font-family:'Liberation Mono';-webkit-text-stroke:0.25px #000;">Avoiding Assumptions</div>
<div class="t" style="left:1680.00px;top:1035.65px;font-size:10.9px;color:#000;font-family:'Liberation Mono';-webkit-text-stroke:0.25px #000;">...</div>
<div class="t" style="left:1843.00px;top:819.65px;font-size:10.9px;color:#000;font-family:'Liberation Mono';-webkit-text-stroke:0.25px #000;">10.</div>
<div class="t" style="left:1868.50px;top:819.65px;font-size:10.9px;color:#000;font-family:'Liberation Mono';-webkit-text-stroke:0.25px #000;">Be more assertive in responses to</div>
<div class="t" style="left:1868.50px;top:835.15px;font-size:10.9px;color:#000;font-family:'Liberation Mono';-webkit-text-stroke:0.25px #000;">known information</div>
<div class="t" style="left:1843.00px;top:859.85px;font-size:10.9px;color:#000;font-family:'Liberation Mono';-webkit-text-stroke:0.25px #000;">11.</div>
<div class="t" style="left:1868.50px;top:859.85px;font-size:10.9px;color:#000;font-family:'Liberation Mono';-webkit-text-stroke:0.25px #000;">Provide Relevant Information</div>
<div class="t" style="left:1868.50px;top:874.85px;font-size:10.9px;color:#000;font-family:'Liberation Mono';-webkit-text-stroke:0.25px #000;">Before Making Statements of</div>
<div class="t" style="left:1868.50px;top:890.55px;font-size:10.9px;color:#000;font-family:'Liberation Mono';-webkit-text-stroke:0.25px #000;">Uncertainty</div>
<div class="t" style="left:1843.00px;top:914.95px;font-size:10.9px;color:#000;font-family:'Liberation Mono';-webkit-text-stroke:0.25px #000;">12.</div>
<div class="t" style="left:1868.50px;top:914.95px;font-size:10.9px;color:#000;font-family:'Liberation Mono';-webkit-text-stroke:0.25px #000;">Avoid Technical Jargon and Focus</div>
<div class="t" style="left:1868.50px;top:929.65px;font-size:10.9px;color:#000;font-family:'Liberation Mono';-webkit-text-stroke:0.25px #000;">on Clear Explanation</div>
<div class="t" style="left:1843.00px;top:955.45px;font-size:10.9px;color:#000;font-family:'Liberation Mono';-webkit-text-stroke:0.25px #000;">13.</div>
<div class="t" style="left:1868.50px;top:955.45px;font-size:10.9px;color:#000;font-family:'Liberation Mono';-webkit-text-stroke:0.25px #000;">Simplicity and Gradual Complexity</div>
<div class="t" style="left:1843.00px;top:980.05px;font-size:10.9px;color:#000;font-family:'Liberation Mono';-webkit-text-stroke:0.25px #000;">14.</div>
<div class="t" style="left:1868.50px;top:980.05px;font-size:10.9px;color:#000;font-family:'Liberation Mono';-webkit-text-stroke:0.25px #000;">Acknowledge and Address Previous</div>
<div class="t" style="left:1868.50px;top:994.65px;font-size:10.9px;color:#000;font-family:'Liberation Mono';-webkit-text-stroke:0.25px #000;">Misconceptions Clearly</div>
<div class="t" style="left:1953.00px;top:1010.65px;font-size:10.9px;color:#000;font-family:'Liberation Mono';-webkit-text-stroke:0.25px #000;">...</div>
<svg style="left:0;top:0" width="2172" height="200" viewBox="0 0 2172 200"><rect x="1919" y="13.5" width="158" height="158" fill="#fff"/><rect x="1929.44" y="23.45" width="29.34" height="29.34" rx="3" fill="none" stroke="#000" stroke-width="4.89"/><rect x="1936.78" y="30.78" width="14.67" height="14.67" rx="2" fill="#000"/><rect x="2037.02" y="23.45" width="29.34" height="29.34" rx="3" fill="none" stroke="#000" stroke-width="4.89"/><rect x="2044.36" y="30.78" width="14.67" height="14.67" rx="2" fill="#000"/><rect x="1929.44" y="131.02" width="29.34" height="29.34" rx="3" fill="none" stroke="#000" stroke-width="4.89"/><rect x="1936.78" y="138.36" width="14.67" height="14.67" rx="2" fill="#000"/><rect x="2029.54" y="94.20" width="5.19" height="5.19" rx="2.59" fill="#000"/><rect x="2029.54" y="96.79" width="5.19" height="4.89" fill="#000"/><rect x="2014.87" y="50.19" width="5.19" height="5.19" rx="2.59" fill="#000"/><rect x="2039.32" y="143.10" width="5.19" height="5.19" rx="2.59" fill="#000"/><rect x="2009.98" y="55.08" width="5.19" height="5.19" rx="2.59" fill="#000"/><rect x="2009.98" y="57.67" width="5.19" height="4.89" fill="#000"/><rect x="2005.09" y="123.54" width="5.19" height="5.19" rx="2.59" fill="#000"/><rect x="2005.09" y="126.13" width="5.19" height="4.89" fill="#000"/><rect x="2029.54" y="147.99" width="5.19" height="5.19" rx="2.59" fill="#000"/><rect x="2029.54" y="150.58" width="5.19" height="4.89" fill="#000"/><rect x="2053.99" y="108.87" width="5.19" height="5.19" rx="2.59" fill="#000"/><rect x="2024.65" y="118.65" width="5.19" height="5.19" rx="2.59" fill="#000"/><rect x="2027.24" y="118.65" width="4.89" height="5.19" fill="#000"/><rect x="2024.65" y="121.24" width="5.19" height="4.89" fill="#000"/><rect x="1985.53" y="157.77" width="5.19" height="5.19" rx="2.59" fill="#000"/><rect x="1988.12" y="157.77" width="4.89" height="5.19" fill="#000"/><rect x="1970.86" y="59.97" width="5.19" height="5.19" rx="2.59" fill="#000"/><rect x="1973.45" y="59.97" width="4.89" height="5.19" fill="#000"/><rect x="1956.19" y="69.75" width="5.19" height="5.19" rx="2.59" fill="#000"/><rect x="2049.10" y="79.53" width="5.19" height="5.19" rx="2.59" fill="#000"/><rect x="1951.30" y="74.64" width="5.19" height="5.19" rx="2.59" fill="#000"/><rect x="2019.76" y="45.30" width="5.19" height="5.19" rx="2.59" fill="#000"/><rect x="2014.87" y="59.97" width="5.19" height="5.19" rx="2.59" fill="#000"/><rect x="2034.43" y="89.31" width="5.19" height="5.19" rx="2.59" fill="#000"/><rect x="2014.87" y="113.76" width="5.19" height="5.19" rx="2.59" fill="#000"/><rect x="2049.10" y="133.32" width="5.19" height="5.19" rx="2.59" fill="#000"/><rect x="1980.64" y="30.63" width="5.19" height="5.19" rx="2.59" fill="#000"/><rect x="1983.23" y="30.63" width="4.89" height="5.19" fill="#000"/><rect x="2029.54" y="157.77" width="5.19" height="5.19" rx="2.59" fill="#000"/><rect x="1965.97" y="84.42" width="5.19" height="5.19" rx="2.59" fill="#000"/><rect x="1965.97" y="87.01" width="5.19" height="4.89" fill="#000"/><rect x="1965.97" y="138.21" width="5.19" height="5.19" rx="2.59" fill="#000"/><rect x="2000.20" y="25.74" width="5.19" height="5.19" rx="2.59" fill="#000"/><rect x="1975.75" y="55.08" width="5.19" height="5.19" rx="2.59" fill="#000"/><rect x="1975.75" y="57.67" width="5.19" height="4.89" fill="#000"/><rect x="2053.99" y="84.42" width="5.19" height="5.19" rx="2.59" fill="#000"/><rect x="2039.32" y="94.20" width="5.19" height="5.19" rx="2.59" fill="#000"/><rect x="2024.65" y="50.19" width="5.19" height="5.19" rx="2.59" fill="#000"/><rect x="1970.86" y="123.54" width="5.19" height="5.19" rx="2.59" fill="#000"/><rect x="1973.45" y="123.54" width="4.89" height="5.19" fill="#000"/><rect x="1970.86" y="126.13" width="5.19" height="4.89" fill="#000"/><rect x="2049.10" y="143.10" width="5.19" height="5.19" rx="2.59" fill="#000"/><rect x="2051.70" y="143.10" width="4.89" height="5.19" fill="#000"/><rect x="2019.76" y="157.77" width="5.19" height="5.19" rx="2.59" fill="#000"/><rect x="2022.36" y="157.77" width="4.89" height="5.19" fill="#000"/><rect x="2063.77" y="108.87" width="5.19" height="5.19" rx="2.59" fill="#000"/><rect x="1975.75" y="128.43" width="5.19" height="5.19" rx="2.59" fill="#000"/><rect x="1975.75" y="131.02" width="5.19" height="4.89" fill="#000"/><rect x="1951.30" y="103.98" width="5.19" height="5.19" rx="2.59" fill="#000"/><rect x="1951.30" y="106.57" width="5.19" height="4.89" fill="#000"/><rect x="2034.43" y="118.65" width="5.19" height="5.19" rx="2.59" fill="#000"/><rect x="2037.02" y="118.65" width="4.89" height="5.19" fill="#000"/><rect x="2019.76" y="128.43" width="5.19" height="5.19" rx="2.59" fill="#000"/><rect x="2022.36" y="128.43" width="4.89" height="5.19" fill="#000"/><rect x="2019.76" y="131.02" width="5.19" height="4.89" fill="#000"/><rect x="1995.31" y="157.77" width="5.19" height="5.19" rx="2.59" fill="#000"/><rect x="1997.90" y="157.77" width="4.89" height="5.19" fill="#000"/><rect x="1980.64" y="113.76" width="5.19" height="5.19" rx="2.59" fill="#000"/><rect x="2063.77" y="128.43" width="5.19" height="5.19" rx="2.59" fill="#000"/><rect x="2063.77" y="131.02" width="5.19" height="4.89" fill="#000"/><rect x="1975.75" y="64.86" width="5.19" height="5.19" rx="2.59" fill="#000"/><rect x="1978.35" y="64.86" width="4.89" height="5.19" fill="#000"/><rect x="2044.21" y="89.31" width="5.19" height="5.19" rx="2.59" fill="#000"/><rect x="2005.09" y="20.85" width="5.19" height="5.19" rx="2.59" fill="#000"/><rect x="1931.74" y="84.42" width="5.19" height="5.19" rx="2.59" fill="#000"/><rect x="2063.77" y="64.86" width="5.19" height="5.19" rx="2.59" fill="#000"/><rect x="2063.77" y="67.45" width="5.19" height="4.89" fill="#000"/><rect x="1975.75" y="138.21" width="5.19" height="5.19" rx="2.59" fill="#000"/><rect x="1978.35" y="138.21" width="4.89" height="5.19" fill="#000"/><rect x="1975.75" y="140.80" width="5.19" height="4.89" fill="#000"/><rect x="1956.19" y="99.09" width="5.19" height="5.19" rx="2.59" fill="#000"/><rect x="2024.65" y="69.75" width="5.19" height="5.19" rx="2.59" fill="#000"/><rect x="2027.24" y="69.75" width="4.89" height="5.19" fill="#000"/><rect x="2019.76" y="138.21" width="5.19" height="5.19" rx="2.59" fill="#000"/><rect x="2022.36" y="138.21" width="4.89" height="5.19" fill="#000"/><rect x="2005.09" y="147.99" width="5.19" height="5.19" rx="2.59" fill="#000"/><rect x="2014.87" y="143.10" width="5.19" height="5.19" rx="2.59" fill="#000"/><rect x="2014.87" y="145.69" width="5.19" height="4.89" fill="#000"/><rect x="1975.75" y="157.77" width="5.19" height="5.19" rx="2.59" fill="#000"/><rect x="1978.35" y="157.77" width="4.89" height="5.19" fill="#000"/><rect x="1985.53" y="55.08" width="5.19" height="5.19" rx="2.59" fill="#000"/><rect x="1985.53" y="57.67" width="5.19" height="4.89" fill="#000"/><rect x="2063.77" y="84.42" width="5.19" height="5.19" rx="2.59" fill="#000"/><rect x="2063.77" y="87.01" width="5.19" height="4.89" fill="#000"/><rect x="2049.10" y="94.20" width="5.19" height="5.19" rx="2.59" fill="#000"/><rect x="2058.88" y="143.10" width="5.19" height="5.19" rx="2.59" fill="#000"/><rect x="2058.88" y="145.69" width="5.19" height="4.89" fill="#000"/><rect x="1965.97" y="152.88" width="5.19" height="5.19" rx="2.59" fill="#000"/><rect x="1968.56" y="152.88" width="4.89" height="5.19" fill="#000"/><rect x="1965.97" y="89.31" width="5.19" height="5.19" rx="2.59" fill="#000"/><rect x="1961.08" y="103.98" width="5.19" height="5.19" rx="2.59" fill="#000"/><rect x="1961.08" y="106.57" width="5.19" height="4.89" fill="#000"/><rect x="1946.41" y="59.97" width="5.19" height="5.19" rx="2.59" fill="#000"/><rect x="1946.41" y="62.56" width="5.19" height="4.89" fill="#000"/><rect x="1946.41" y="113.76" width="5.19" height="5.19" rx="2.59" fill="#000"/><rect x="1946.41" y="116.35" width="5.19" height="4.89" fill="#000"/><rect x="2044.21" y="118.65" width="5.19" height="5.19" rx="2.59" fill="#000"/><rect x="2046.80" y="118.65" width="4.89" height="5.19" fill="#000"/><rect x="2044.21" y="121.24" width="5.19" height="4.89" fill="#000"/><rect x="1926.85" y="74.64" width="5.19" height="5.19" rx="2.59" fill="#000"/><rect x="1926.85" y="77.23" width="5.19" height="4.89" fill="#000"/><rect x="2024.65" y="133.32" width="5.19" height="5.19" rx="2.59" fill="#000"/><rect x="2024.65" y="135.91" width="5.19" height="4.89" fill="#000"/><rect x="2044.21" y="138.21" width="5.19" height="5.19" rx="2.59" fill="#000"/><rect x="1970.86" y="20.85" width="5.19" height="5.19" rx="2.59" fill="#000"/><rect x="1970.86" y="74.64" width="5.19" height="5.19" rx="2.59" fill="#000"/><rect x="1970.86" y="77.23" width="5.19" height="4.89" fill="#000"/><rect x="2029.54" y="64.86" width="5.19" height="5.19" rx="2.59" fill="#000"/><rect x="2032.13" y="64.86" width="4.89" height="5.19" fill="#000"/><rect x="2029.54" y="67.45" width="5.19" height="4.89" fill="#000"/><rect x="1941.52" y="84.42" width="5.19" height="5.19" rx="2.59" fill="#000"/><rect x="1944.12" y="84.42" width="4.89" height="5.19" fill="#000"/><rect x="1941.52" y="87.01" width="5.19" height="4.89" fill="#000"/><rect x="1926.85" y="94.20" width="5.19" height="5.19" rx="2.59" fill="#000"/><rect x="1929.44" y="94.20" width="4.89" height="5.19" fill="#000"/><rect x="1926.85" y="96.79" width="5.19" height="4.89" fill="#000"/><rect x="1975.75" y="25.74" width="5.19" height="5.19" rx="2.59" fill="#000"/><rect x="1980.64" y="143.10" width="5.19" height="5.19" rx="2.59" fill="#000"/><rect x="1951.30" y="108.87" width="5.19" height="5.19" rx="2.59" fill="#000"/><rect x="1953.89" y="108.87" width="4.89" height="5.19" fill="#000"/><rect x="2019.76" y="25.74" width="5.19" height="5.19" rx="2.59" fill="#000"/><rect x="2022.36" y="25.74" width="4.89" height="5.19" fill="#000"/><rect x="2019.76" y="28.34" width="5.19" height="4.89" fill="#000"/><rect x="2029.54" y="138.21" width="5.19" height="5.19" rx="2.59" fill="#000"/><rect x="2032.13" y="138.21" width="4.89" height="5.19" fill="#000"/><rect x="2014.87" y="147.99" width="5.19" height="5.19" rx="2.59" fill="#000"/><rect x="2017.46" y="147.99" width="4.89" height="5.19" fill="#000"/><rect x="2014.87" y="150.58" width="5.19" height="4.89" fill="#000"/><rect x="1965.97" y="118.65" width="5.19" height="5.19" rx="2.59" fill="#000"/><rect x="1968.56" y="118.65" width="4.89" height="5.19" fill="#000"/><rect x="1965.97" y="121.24" width="5.19" height="4.89" fill="#000"/><rect x="1926.85" y="103.98" width="5.19" height="5.19" rx="2.59" fill="#000"/><rect x="1929.44" y="103.98" width="4.89" height="5.19" fill="#000"/><rect x="2009.98" y="118.65" width="5.19" height="5.19" rx="2.59" fill="#000"/><rect x="1990.42" y="133.32" width="5.19" height="5.19" rx="2.59" fill="#000"/><rect x="1993.01" y="133.32" width="4.89" height="5.19" fill="#000"/><rect x="1990.42" y="135.91" width="5.19" height="4.89" fill="#000"/><rect x="1951.30" y="64.86" width="5.19" height="5.19" rx="2.59" fill="#000"/><rect x="1936.63" y="74.64" width="5.19" height="5.19" rx="2.59" fill="#000"/><rect x="1936.63" y="77.23" width="5.19" height="4.89" fill="#000"/><rect x="1995.31" y="64.86" width="5.19" height="5.19" rx="2.59" fill="#000"/><rect x="1997.90" y="64.86" width="4.89" height="5.19" fill="#000"/><rect x="2063.77" y="89.31" width="5.19" height="5.19" rx="2.59" fill="#000"/><rect x="1951.30" y="84.42" width="5.19" height="5.19" rx="2.59" fill="#000"/><rect x="2034.43" y="152.88" width="5.19" height="5.19" rx="2.59" fill="#000"/><rect x="2037.02" y="152.88" width="4.89" height="5.19" fill="#000"/><rect x="1990.42" y="143.10" width="5.19" height="5.19" rx="2.59" fill="#000"/><rect x="1993.01" y="143.10" width="4.89" height="5.19" fill="#000"/><rect x="1990.42" y="145.69" width="5.19" height="4.89" fill="#000"/><rect x="2058.88" y="113.76" width="5.19" height="5.19" rx="2.59" fill="#000"/><rect x="2058.88" y="116.35" width="5.19" height="4.89" fill="#000"/><rect x="2044.21" y="69.75" width="5.19" height="5.19" rx="2.59" fill="#000"/><rect x="2046.80" y="69.75" width="4.89" height="5.19" fill="#000"/><rect x="2044.21" y="72.34" width="5.19" height="4.89" fill="#000"/><rect x="1961.08" y="108.87" width="5.19" height="5.19" rx="2.59" fill="#000"/><rect x="2039.32" y="138.21" width="5.19" height="5.19" rx="2.59" fill="#000"/><rect x="2041.91" y="138.21" width="4.89" height="5.19" fill="#000"/><rect x="2039.32" y="140.80" width="5.19" height="4.89" fill="#000"/><rect x="2024.65" y="30.63" width="5.19" height="5.19" rx="2.59" fill="#000"/><rect x="2024.65" y="33.23" width="5.19" height="4.89" fill="#000"/><rect x="2024.65" y="147.99" width="5.19" height="5.19" rx="2.59" fill="#000"/><rect x="2027.24" y="147.99" width="4.89" height="5.19" fill="#000"/><rect x="2024.65" y="150.58" width="5.19" height="4.89" fill="#000"/><rect x="2005.09" y="55.08" width="5.19" height="5.19" rx="2.59" fill="#000"/><rect x="2007.68" y="55.08" width="4.89" height="5.19" fill="#000"/><rect x="1931.74" y="118.65" width="5.19" height="5.19" rx="2.59" fill="#000"/><rect x="2063.77" y="99.09" width="5.19" height="5.19" rx="2.59" fill="#000"/><rect x="2063.77" y="101.68" width="5.19" height="4.89" fill="#000"/><rect x="1956.19" y="79.53" width="5.19" height="5.19" rx="2.59" fill="#000"/><rect x="1958.78" y="79.53" width="4.89" height="5.19" fill="#000"/><rect x="1941.52" y="89.31" width="5.19" height="5.19" rx="2.59" fill="#000"/><rect x="2019.76" y="118.65" width="5.19" height="5.19" rx="2.59" fill="#000"/><rect x="2022.36" y="118.65" width="4.89" height="5.19" fill="#000"/><rect x="2019.76" y="121.24" width="5.19" height="4.89" fill="#000"/><rect x="2005.09" y="128.43" width="5.19" height="5.19" rx="2.59" fill="#000"/><rect x="2014.87" y="123.54" width="5.19" height="5.19" rx="2.59" fill="#000"/><rect x="2017.46" y="123.54" width="4.89" height="5.19" fill="#000"/><rect x="2000.20" y="133.32" width="5.19" height="5.19" rx="2.59" fill="#000"/><rect x="1970.86" y="45.30" width="5.19" height="5.19" rx="2.59" fill="#000"/><rect x="2063.77" y="118.65" width="5.19" height="5.19" rx="2.59" fill="#000"/><rect x="2063.77" y="121.24" width="5.19" height="4.89" fill="#000"/><rect x="1980.64" y="157.77" width="5.19" height="5.19" rx="2.59" fill="#000"/><rect x="1983.23" y="157.77" width="4.89" height="5.19" fill="#000"/><rect x="2044.21" y="133.32" width="5.19" height="5.19" rx="2.59" fill="#000"/><rect x="2046.80" y="133.32" width="4.89" height="5.19" fill="#000"/><rect x="2044.21" y="135.91" width="5.19" height="4.89" fill="#000"/><rect x="1946.41" y="74.64" width="5.19" height="5.19" rx="2.59" fill="#000"/><rect x="1949.00" y="74.64" width="4.89" height="5.19" fill="#000"/><rect x="2024.65" y="59.97" width="5.19" height="5.19" rx="2.59" fill="#000"/><rect x="2027.24" y="59.97" width="4.89" height="5.19" fill="#000"/><rect x="1941.52" y="99.09" width="5.19" height="5.19" rx="2.59" fill="#000"/><rect x="1944.12" y="99.09" width="4.89" height="5.19" fill="#000"/><rect x="1990.42" y="147.99" width="5.19" height="5.19" rx="2.59" fill="#000"/><rect x="2049.10" y="74.64" width="5.19" height="5.19" rx="2.59" fill="#000"/><rect x="2049.10" y="77.23" width="5.19" height="4.89" fill="#000"/><rect x="2029.54" y="99.09" width="5.19" height="5.19" rx="2.59" fill="#000"/><rect x="1941.52" y="118.65" width="5.19" height="5.19" rx="2.59" fill="#000"/><rect x="1944.12" y="118.65" width="4.89" height="5.19" fill="#000"/><rect x="1985.53" y="118.65" width="5.19" height="5.19" rx="2.59" fill="#000"/><rect x="1970.86" y="128.43" width="5.19" height="5.19" rx="2.59" fill="#000"/><rect x="1973.45" y="128.43" width="4.89" height="5.19" fill="#000"/><rect x="1970.86" y="131.02" width="5.19" height="4.89" fill="#000"/><rect x="1980.64" y="123.54" width="5.19" height="5.19" rx="2.59" fill="#000"/><rect x="2029.54" y="118.65" width="5.19" height="5.19" rx="2.59" fill="#000"/><rect x="2032.13" y="118.65" width="4.89" height="5.19" fill="#000"/><rect x="2024.65" y="123.54" width="5.19" height="5.19" rx="2.59" fill="#000"/><rect x="2024.65" y="126.13" width="5.19" height="4.89" fill="#000"/><rect x="1926.85" y="64.86" width="5.19" height="5.19" rx="2.59" fill="#000"/><rect x="2009.98" y="133.32" width="5.19" height="5.19" rx="2.59" fill="#000"/><rect x="1980.64" y="45.30" width="5.19" height="5.19" rx="2.59" fill="#000"/><rect x="1990.42" y="40.41" width="5.19" height="5.19" rx="2.59" fill="#000"/><rect x="1993.01" y="40.41" width="4.89" height="5.19" fill="#000"/><rect x="2058.88" y="128.43" width="5.19" height="5.19" rx="2.59" fill="#000"/><rect x="2061.48" y="128.43" width="4.89" height="5.19" fill="#000"/><rect x="2009.98" y="152.88" width="5.19" height="5.19" rx="2.59" fill="#000"/><rect x="2012.58" y="152.88" width="4.89" height="5.19" fill="#000"/><rect x="2009.98" y="155.47" width="5.19" height="4.89" fill="#000"/><rect x="1990.42" y="59.97" width="5.19" height="5.19" rx="2.59" fill="#000"/><rect x="1990.42" y="62.56" width="5.19" height="4.89" fill="#000"/><rect x="2049.10" y="157.77" width="5.19" height="5.19" rx="2.59" fill="#000"/><rect x="2014.87" y="138.21" width="5.19" height="5.19" rx="2.59" fill="#000"/><rect x="2017.46" y="138.21" width="4.89" height="5.19" fill="#000"/><rect x="2014.87" y="140.80" width="5.19" height="4.89" fill="#000"/><rect x="2009.98" y="143.10" width="5.19" height="5.19" rx="2.59" fill="#000"/><rect x="2012.58" y="143.10" width="4.89" height="5.19" fill="#000"/><rect x="2063.77" y="69.75" width="5.19" height="5.19" rx="2.59" fill="#000"/><rect x="2063.77" y="72.34" width="5.19" height="4.89" fill="#000"/><rect x="2058.88" y="74.64" width="5.19" height="5.19" rx="2.59" fill="#000"/><rect x="2061.48" y="74.64" width="4.89" height="5.19" fill="#000"/><rect x="2053.99" y="143.10" width="5.19" height="5.19" rx="2.59" fill="#000"/><rect x="2056.59" y="143.10" width="4.89" height="5.19" fill="#000"/><rect x="2053.99" y="145.69" width="5.19" height="4.89" fill="#000"/><rect x="1951.30" y="118.65" width="5.19" height="5.19" rx="2.59" fill="#000"/><rect x="1953.89" y="118.65" width="4.89" height="5.19" fill="#000"/><rect x="1931.74" y="79.53" width="5.19" height="5.19" rx="2.59" fill="#000"/><rect x="1934.34" y="79.53" width="4.89" height="5.19" fill="#000"/><rect x="1931.74" y="82.12" width="5.19" height="4.89" fill="#000"/><rect x="2058.88" y="94.20" width="5.19" height="5.19" rx="2.59" fill="#000"/><rect x="2058.88" y="96.79" width="5.19" height="4.89" fill="#000"/><rect x="1975.75" y="133.32" width="5.19" height="5.19" rx="2.59" fill="#000"/><rect x="1978.35" y="133.32" width="4.89" height="5.19" fill="#000"/><rect x="1975.75" y="135.91" width="5.19" height="4.89" fill="#000"/><rect x="2039.32" y="118.65" width="5.19" height="5.19" rx="2.59" fill="#000"/><rect x="2041.91" y="118.65" width="4.89" height="5.19" fill="#000"/><rect x="2024.65" y="128.43" width="5.19" height="5.19" rx="2.59" fill="#000"/><rect x="2024.65" y="131.02" width="5.19" height="4.89" fill="#000"/><rect x="2058.88" y="147.99" width="5.19" height="5.19" rx="2.59" fill="#000"/><rect x="2061.48" y="147.99" width="4.89" height="5.19" fill="#000"/><rect x="2058.88" y="150.58" width="5.19" height="4.89" fill="#000"/><rect x="1936.63" y="64.86" width="5.19" height="5.19" rx="2.59" fill="#000"/><rect x="2019.76" y="79.53" width="5.19" height="5.19" rx="2.59" fill="#000"/><rect x="2019.76" y="133.32" width="5.19" height="5.19" rx="2.59" fill="#000"/><rect x="2022.36" y="133.32" width="4.89" height="5.19" fill="#000"/><rect x="2019.76" y="135.91" width="5.19" height="4.89" fill="#000"/><rect x="2000.20" y="40.41" width="5.19" height="5.19" rx="2.59" fill="#000"/><rect x="2002.79" y="40.41" width="4.89" height="5.19" fill="#000"/><rect x="2000.20" y="43.01" width="5.19" height="4.89" fill="#000"/><rect x="2063.77" y="79.53" width="5.19" height="5.19" rx="2.59" fill="#000"/><rect x="2063.77" y="82.12" width="5.19" height="4.89" fill="#000"/><rect x="2063.77" y="133.32" width="5.19" height="5.19" rx="2.59" fill="#000"/><rect x="1975.75" y="152.88" width="5.19" height="5.19" rx="2.59" fill="#000"/><rect x="1975.75" y="155.47" width="5.19" height="4.89" fill="#000"/><rect x="1956.19" y="59.97" width="5.19" height="5.19" rx="2.59" fill="#000"/><rect x="2019.76" y="152.88" width="5.19" height="5.19" rx="2.59" fill="#000"/><rect x="2022.36" y="152.88" width="4.89" height="5.19" fill="#000"/><rect x="2019.76" y="155.47" width="5.19" height="4.89" fill="#000"/><rect x="2000.20" y="113.76" width="5.19" height="5.19" rx="2.59" fill="#000"/><rect x="2002.79" y="113.76" width="4.89" height="5.19" fill="#000"/><rect x="1980.64" y="138.21" width="5.19" height="5.19" rx="2.59" fill="#000"/><rect x="1980.64" y="140.80" width="5.19" height="4.89" fill="#000"/><rect x="1980.64" y="20.85" width="5.19" height="5.19" rx="2.59" fill="#000"/><rect x="1983.23" y="20.85" width="4.89" height="5.19" fill="#000"/><rect x="1965.97" y="30.63" width="5.19" height="5.19" rx="2.59" fill="#000"/><rect x="1968.56" y="30.63" width="4.89" height="5.19" fill="#000"/><rect x="2044.21" y="59.97" width="5.19" height="5.19" rx="2.59" fill="#000"/><rect x="2044.21" y="62.56" width="5.19" height="4.89" fill="#000"/><rect x="2029.54" y="69.75" width="5.19" height="5.19" rx="2.59" fill="#000"/><rect x="2029.54" y="72.34" width="5.19" height="4.89" fill="#000"/><rect x="2014.87" y="25.74" width="5.19" height="5.19" rx="2.59" fill="#000"/><rect x="2017.46" y="25.74" width="4.89" height="5.19" fill="#000"/><rect x="2014.87" y="28.34" width="5.19" height="4.89" fill="#000"/><rect x="2024.65" y="20.85" width="5.19" height="5.19" rx="2.59" fill="#000"/><rect x="2024.65" y="23.45" width="5.19" height="4.89" fill="#000"/><rect x="2009.98" y="30.63" width="5.19" height="5.19" rx="2.59" fill="#000"/><rect x="2012.58" y="30.63" width="4.89" height="5.19" fill="#000"/><rect x="2044.21" y="113.76" width="5.19" height="5.19" rx="2.59" fill="#000"/><rect x="2046.80" y="113.76" width="4.89" height="5.19" fill="#000"/><rect x="2044.21" y="116.35" width="5.19" height="4.89" fill="#000"/><rect x="1975.75" y="143.10" width="5.19" height="5.19" rx="2.59" fill="#000"/><rect x="1978.35" y="143.10" width="4.89" height="5.19" fill="#000"/><rect x="2058.88" y="157.77" width="5.19" height="5.19" rx="2.59" fill="#000"/><rect x="1965.97" y="50.19" width="5.19" height="5.19" rx="2.59" fill="#000"/><rect x="1961.08" y="118.65" width="5.19" height="5.19" rx="2.59" fill="#000"/><rect x="1963.67" y="118.65" width="4.89" height="5.19" fill="#000"/><rect x="1941.52" y="79.53" width="5.19" height="5.19" rx="2.59" fill="#000"/><rect x="1941.52" y="82.12" width="5.19" height="4.89" fill="#000"/><rect x="2024.65" y="94.20" width="5.19" height="5.19" rx="2.59" fill="#000"/><rect x="2027.24" y="94.20" width="4.89" height="5.19" fill="#000"/><rect x="1990.42" y="128.43" width="5.19" height="5.19" rx="2.59" fill="#000"/><rect x="1990.42" y="131.02" width="5.19" height="4.89" fill="#000"/><rect x="2000.20" y="123.54" width="5.19" height="5.19" rx="2.59" fill="#000"/><rect x="2002.79" y="123.54" width="4.89" height="5.19" fill="#000"/><rect x="2000.20" y="126.13" width="5.19" height="4.89" fill="#000"/><rect x="1985.53" y="133.32" width="5.19" height="5.19" rx="2.59" fill="#000"/><rect x="1988.12" y="133.32" width="4.89" height="5.19" fill="#000"/><rect x="1970.86" y="35.52" width="5.19" height="5.19" rx="2.59" fill="#000"/><rect x="2049.10" y="118.65" width="5.19" height="5.19" rx="2.59" fill="#000"/><rect x="1965.97" y="40.41" width="5.19" height="5.19" rx="2.59" fill="#000"/><rect x="1965.97" y="43.01" width="5.19" height="4.89" fill="#000"/><rect x="2049.10" y="108.87" width="5.19" height="5.19" rx="2.59" fill="#000"/><rect x="2051.70" y="108.87" width="4.89" height="5.19" fill="#000"/><rect x="2049.10" y="111.46" width="5.19" height="4.89" fill="#000"/><rect x="2044.21" y="123.54" width="5.19" height="5.19" rx="2.59" fill="#000"/><rect x="2044.21" y="126.13" width="5.19" height="4.89" fill="#000"/><rect x="2014.87" y="35.52" width="5.19" height="5.19" rx="2.59" fill="#000"/><rect x="1965.97" y="59.97" width="5.19" height="5.19" rx="2.59" fill="#000"/><rect x="1968.56" y="59.97" width="4.89" height="5.19" fill="#000"/><rect x="1965.97" y="113.76" width="5.19" height="5.19" rx="2.59" fill="#000"/><rect x="1965.97" y="116.35" width="5.19" height="4.89" fill="#000"/><rect x="1946.41" y="84.42" width="5.19" height="5.19" rx="2.59" fill="#000"/><rect x="1949.00" y="84.42" width="4.89" height="5.19" fill="#000"/><rect x="2029.54" y="152.88" width="5.19" height="5.19" rx="2.59" fill="#000"/><rect x="2032.13" y="152.88" width="4.89" height="5.19" fill="#000"/><rect x="2029.54" y="155.47" width="5.19" height="4.89" fill="#000"/><rect x="2024.65" y="103.98" width="5.19" height="5.19" rx="2.59" fill="#000"/><rect x="2009.98" y="59.97" width="5.19" height="5.19" rx="2.59" fill="#000"/><rect x="2012.58" y="59.97" width="4.89" height="5.19" fill="#000"/><rect x="1926.85" y="99.09" width="5.19" height="5.19" rx="2.59" fill="#000"/><rect x="1926.85" y="101.68" width="5.19" height="4.89" fill="#000"/><rect x="2009.98" y="113.76" width="5.19" height="5.19" rx="2.59" fill="#000"/><rect x="2012.58" y="113.76" width="4.89" height="5.19" fill="#000"/><rect x="2009.98" y="116.35" width="5.19" height="4.89" fill="#000"/><rect x="2024.65" y="157.77" width="5.19" height="5.19" rx="2.59" fill="#000"/><rect x="2027.24" y="157.77" width="4.89" height="5.19" fill="#000"/><rect x="2053.99" y="59.97" width="5.19" height="5.19" rx="2.59" fill="#000"/><rect x="1970.86" y="99.09" width="5.19" height="5.19" rx="2.59" fill="#000"/><rect x="2024.65" y="25.74" width="5.19" height="5.19" rx="2.59" fill="#000"/><rect x="2024.65" y="28.34" width="5.19" height="4.89" fill="#000"/><rect x="2019.76" y="30.63" width="5.19" height="5.19" rx="2.59" fill="#000"/><rect x="2022.36" y="30.63" width="4.89" height="5.19" fill="#000"/><rect x="1926.85" y="118.65" width="5.19" height="5.19" rx="2.59" fill="#000"/><rect x="1929.44" y="118.65" width="4.89" height="5.19" fill="#000"/><rect x="1975.75" y="50.19" width="5.19" height="5.19" rx="2.59" fill="#000"/><rect x="1975.75" y="52.78" width="5.19" height="4.89" fill="#000"/><rect x="1970.86" y="118.65" width="5.19" height="5.19" rx="2.59" fill="#000"/><rect x="1970.86" y="121.24" width="5.19" height="4.89" fill="#000"/><rect x="1965.97" y="123.54" width="5.19" height="5.19" rx="2.59" fill="#000"/><rect x="1968.56" y="123.54" width="4.89" height="5.19" fill="#000"/><rect x="1995.31" y="133.32" width="5.19" height="5.19" rx="2.59" fill="#000"/><rect x="1997.90" y="133.32" width="4.89" height="5.19" fill="#000"/><rect x="2053.99" y="123.54" width="5.19" height="5.19" rx="2.59" fill="#000"/><rect x="2039.32" y="79.53" width="5.19" height="5.19" rx="2.59" fill="#000"/><rect x="1931.74" y="59.97" width="5.19" height="5.19" rx="2.59" fill="#000"/><rect x="1995.31" y="152.88" width="5.19" height="5.19" rx="2.59" fill="#000"/><rect x="1995.31" y="155.47" width="5.19" height="4.89" fill="#000"/><rect x="1990.42" y="157.77" width="5.19" height="5.19" rx="2.59" fill="#000"/><rect x="1993.01" y="157.77" width="4.89" height="5.19" fill="#000"/><rect x="1975.75" y="59.97" width="5.19" height="5.19" rx="2.59" fill="#000"/><rect x="1975.75" y="62.56" width="5.19" height="4.89" fill="#000"/><rect x="2039.32" y="152.88" width="5.19" height="5.19" rx="2.59" fill="#000"/><rect x="2034.43" y="103.98" width="5.19" height="5.19" rx="2.59" fill="#000"/><rect x="1936.63" y="99.09" width="5.19" height="5.19" rx="2.59" fill="#000"/><rect x="1939.22" y="99.09" width="4.89" height="5.19" fill="#000"/><rect x="1990.42" y="25.74" width="5.19" height="5.19" rx="2.59" fill="#000"/><rect x="1985.53" y="30.63" width="5.19" height="5.19" rx="2.59" fill="#000"/><rect x="1995.31" y="143.10" width="5.19" height="5.19" rx="2.59" fill="#000"/><rect x="2049.10" y="69.75" width="5.19" height="5.19" rx="2.59" fill="#000"/><rect x="2049.10" y="72.34" width="5.19" height="4.89" fill="#000"/><rect x="2058.88" y="64.86" width="5.19" height="5.19" rx="2.59" fill="#000"/><rect x="2061.48" y="64.86" width="4.89" height="5.19" fill="#000"/><rect x="2044.21" y="74.64" width="5.19" height="5.19" rx="2.59" fill="#000"/><rect x="2046.80" y="74.64" width="4.89" height="5.19" fill="#000"/><rect x="1985.53" y="50.19" width="5.19" height="5.19" rx="2.59" fill="#000"/><rect x="1985.53" y="52.78" width="5.19" height="4.89" fill="#000"/><rect x="1975.75" y="123.54" width="5.19" height="5.19" rx="2.59" fill="#000"/><rect x="1978.35" y="123.54" width="4.89" height="5.19" fill="#000"/><rect x="1975.75" y="126.13" width="5.19" height="4.89" fill="#000"/><rect x="1961.08" y="79.53" width="5.19" height="5.19" rx="2.59" fill="#000"/><rect x="2058.88" y="138.21" width="5.19" height="5.19" rx="2.59" fill="#000"/><rect x="2058.88" y="140.80" width="5.19" height="4.89" fill="#000"/><rect x="2019.76" y="123.54" width="5.19" height="5.19" rx="2.59" fill="#000"/><rect x="2022.36" y="123.54" width="4.89" height="5.19" fill="#000"/><rect x="2019.76" y="126.13" width="5.19" height="4.89" fill="#000"/><rect x="1985.53" y="40.41" width="5.19" height="5.19" rx="2.59" fill="#000"/><rect x="1988.12" y="40.41" width="4.89" height="5.19" fill="#000"/><rect x="2063.77" y="123.54" width="5.19" height="5.19" rx="2.59" fill="#000"/><rect x="2063.77" y="126.13" width="5.19" height="4.89" fill="#000"/><rect x="1941.52" y="113.76" width="5.19" height="5.19" rx="2.59" fill="#000"/><rect x="1944.12" y="113.76" width="4.89" height="5.19" fill="#000"/><rect x="1941.52" y="116.35" width="5.19" height="4.89" fill="#000"/><rect x="2000.20" y="157.77" width="5.19" height="5.19" rx="2.59" fill="#000"/><rect x="1985.53" y="59.97" width="5.19" height="5.19" rx="2.59" fill="#000"/><rect x="1988.12" y="59.97" width="4.89" height="5.19" fill="#000"/><rect x="1980.64" y="64.86" width="5.19" height="5.19" rx="2.59" fill="#000"/><rect x="2049.10" y="152.88" width="5.19" height="5.19" rx="2.59" fill="#000"/><rect x="2049.10" y="155.47" width="5.19" height="4.89" fill="#000"/><rect x="2044.21" y="103.98" width="5.19" height="5.19" rx="2.59" fill="#000"/><rect x="2029.54" y="59.97" width="5.19" height="5.19" rx="2.59" fill="#000"/><rect x="2029.54" y="62.56" width="5.19" height="4.89" fill="#000"/><rect x="1946.41" y="99.09" width="5.19" height="5.19" rx="2.59" fill="#000"/><rect x="2044.21" y="157.77" width="5.19" height="5.19" rx="2.59" fill="#000"/><rect x="2046.80" y="157.77" width="4.89" height="5.19" fill="#000"/><rect x="1995.31" y="30.63" width="5.19" height="5.19" rx="2.59" fill="#000"/><rect x="2005.09" y="143.10" width="5.19" height="5.19" rx="2.59" fill="#000"/><rect x="2007.68" y="143.10" width="4.89" height="5.19" fill="#000"/><rect x="2005.09" y="145.69" width="5.19" height="4.89" fill="#000"/><rect x="1946.41" y="118.65" width="5.19" height="5.19" rx="2.59" fill="#000"/><rect x="1949.00" y="118.65" width="4.89" height="5.19" fill="#000"/><rect x="2024.65" y="138.21" width="5.19" height="5.19" rx="2.59" fill="#000"/><rect x="2027.24" y="138.21" width="4.89" height="5.19" fill="#000"/><rect x="1926.85" y="79.53" width="5.19" height="5.19" rx="2.59" fill="#000"/><rect x="1929.44" y="79.53" width="4.89" height="5.19" fill="#000"/><rect x="1995.31" y="50.19" width="5.19" height="5.19" rx="2.59" fill="#000"/><rect x="1970.86" y="79.53" width="5.19" height="5.19" rx="2.59" fill="#000"/><rect x="1956.19" y="89.31" width="5.19" height="5.19" rx="2.59" fill="#000"/><rect x="1970.86" y="133.32" width="5.19" height="5.19" rx="2.59" fill="#000"/><rect x="1973.45" y="133.32" width="4.89" height="5.19" fill="#000"/><rect x="2053.99" y="147.99" width="5.19" height="5.19" rx="2.59" fill="#000"/><rect x="2056.59" y="147.99" width="4.89" height="5.19" fill="#000"/><rect x="1995.31" y="40.41" width="5.19" height="5.19" rx="2.59" fill="#000"/><rect x="1997.90" y="40.41" width="4.89" height="5.19" fill="#000"/><rect x="1970.86" y="152.88" width="5.19" height="5.19" rx="2.59" fill="#000"/><rect x="1973.45" y="152.88" width="4.89" height="5.19" fill="#000"/><rect x="2034.43" y="128.43" width="5.19" height="5.19" rx="2.59" fill="#000"/><rect x="1946.41" y="64.86" width="5.19" height="5.19" rx="2.59" fill="#000"/><rect x="1949.00" y="64.86" width="4.89" height="5.19" fill="#000"/><rect x="1946.41" y="67.45" width="5.19" height="4.89" fill="#000"/><rect x="2014.87" y="152.88" width="5.19" height="5.19" rx="2.59" fill="#000"/><rect x="2017.46" y="152.88" width="4.89" height="5.19" fill="#000"/><rect x="2000.20" y="45.30" width="5.19" height="5.19" rx="2.59" fill="#000"/><rect x="2009.98" y="157.77" width="5.19" height="5.19" rx="2.59" fill="#000"/><rect x="1990.42" y="64.86" width="5.19" height="5.19" rx="2.59" fill="#000"/><rect x="1993.01" y="64.86" width="4.89" height="5.19" fill="#000"/><rect x="2058.88" y="152.88" width="5.19" height="5.19" rx="2.59" fill="#000"/><rect x="2058.88" y="155.47" width="5.19" height="4.89" fill="#000"/><rect x="1970.86" y="143.10" width="5.19" height="5.19" rx="2.59" fill="#000"/><rect x="1973.45" y="143.10" width="4.89" height="5.19" fill="#000"/><rect x="2039.32" y="59.97" width="5.19" height="5.19" rx="2.59" fill="#000"/><rect x="2041.91" y="59.97" width="4.89" height="5.19" fill="#000"/><rect x="2039.32" y="113.76" width="5.19" height="5.19" rx="2.59" fill="#000"/><rect x="2041.91" y="113.76" width="4.89" height="5.19" fill="#000"/><rect x="2039.32" y="116.35" width="5.19" height="4.89" fill="#000"/><rect x="2034.43" y="64.86" width="5.19" height="5.19" rx="2.59" fill="#000"/><rect x="2019.76" y="74.64" width="5.19" height="5.19" rx="2.59" fill="#000"/><rect x="2019.76" y="77.23" width="5.19" height="4.89" fill="#000"/><rect x="2005.09" y="30.63" width="5.19" height="5.19" rx="2.59" fill="#000"/><rect x="2007.68" y="30.63" width="4.89" height="5.19" fill="#000"/><rect x="1931.74" y="94.20" width="5.19" height="5.19" rx="2.59" fill="#000"/><rect x="2063.77" y="74.64" width="5.19" height="5.19" rx="2.59" fill="#000"/><rect x="2063.77" y="77.23" width="5.19" height="4.89" fill="#000"/><rect x="1990.42" y="138.21" width="5.19" height="5.19" rx="2.59" fill="#000"/><rect x="1990.42" y="140.80" width="5.19" height="4.89" fill="#000"/><rect x="1956.19" y="118.65" width="5.19" height="5.19" rx="2.59" fill="#000"/><rect x="1958.78" y="118.65" width="4.89" height="5.19" fill="#000"/><rect x="1956.19" y="108.87" width="5.19" height="5.19" rx="2.59" fill="#000"/><rect x="1958.78" y="108.87" width="4.89" height="5.19" fill="#000"/><rect x="2034.43" y="84.42" width="5.19" height="5.19" rx="2.59" fill="#000"/><rect x="2034.43" y="87.01" width="5.19" height="4.89" fill="#000"/><rect x="1936.63" y="79.53" width="5.19" height="5.19" rx="2.59" fill="#000"/><rect x="1939.22" y="79.53" width="4.89" height="5.19" fill="#000"/><rect x="2005.09" y="50.19" width="5.19" height="5.19" rx="2.59" fill="#000"/><rect x="2005.09" y="52.78" width="5.19" height="4.89" fill="#000"/><rect x="2034.43" y="138.21" width="5.19" height="5.19" rx="2.59" fill="#000"/><rect x="2037.02" y="138.21" width="4.89" height="5.19" fill="#000"/><rect x="2019.76" y="147.99" width="5.19" height="5.19" rx="2.59" fill="#000"/><rect x="2022.36" y="147.99" width="4.89" height="5.19" fill="#000"/><rect x="2019.76" y="150.58" width="5.19" height="4.89" fill="#000"/><rect x="1980.64" y="133.32" width="5.19" height="5.19" rx="2.59" fill="#000"/><rect x="1983.23" y="133.32" width="4.89" height="5.19" fill="#000"/><rect x="1980.64" y="135.91" width="5.19" height="4.89" fill="#000"/><rect x="2063.77" y="147.99" width="5.19" height="5.19" rx="2.59" fill="#000"/><rect x="2058.88" y="99.09" width="5.19" height="5.19" rx="2.59" fill="#000"/><rect x="2061.48" y="99.09" width="4.89" height="5.19" fill="#000"/><rect x="2005.09" y="40.41" width="5.19" height="5.19" rx="2.59" fill="#000"/><rect x="1931.74" y="103.98" width="5.19" height="5.19" rx="2.59" fill="#000"/><rect x="2000.20" y="128.43" width="5.19" height="5.19" rx="2.59" fill="#000"/><rect x="2002.79" y="128.43" width="4.89" height="5.19" fill="#000"/><rect x="2000.20" y="131.02" width="5.19" height="4.89" fill="#000"/><rect x="1965.97" y="45.30" width="5.19" height="5.19" rx="2.59" fill="#000"/><rect x="1968.56" y="45.30" width="4.89" height="5.19" fill="#000"/><rect x="1965.97" y="47.90" width="5.19" height="4.89" fill="#000"/><rect x="2058.88" y="118.65" width="5.19" height="5.19" rx="2.59" fill="#000"/><rect x="2061.48" y="118.65" width="4.89" height="5.19" fill="#000"/><rect x="1946.41" y="69.75" width="5.19" height="5.19" rx="2.59" fill="#000"/><rect x="1946.41" y="72.34" width="5.19" height="4.89" fill="#000"/><rect x="2044.21" y="128.43" width="5.19" height="5.19" rx="2.59" fill="#000"/><rect x="2044.21" y="131.02" width="5.19" height="4.89" fill="#000"/><rect x="2024.65" y="35.52" width="5.19" height="5.19" rx="2.59" fill="#000"/><rect x="2024.65" y="89.31" width="5.19" height="5.19" rx="2.59" fill="#000"/><rect x="2024.65" y="91.90" width="5.19" height="4.89" fill="#000"/><rect x="2005.09" y="113.76" width="5.19" height="5.19" rx="2.59" fill="#000"/><rect x="2007.68" y="113.76" width="4.89" height="5.19" fill="#000"/><rect x="2024.65" y="152.88" width="5.19" height="5.19" rx="2.59" fill="#000"/><rect x="2027.24" y="152.88" width="4.89" height="5.19" fill="#000"/><rect x="2024.65" y="155.47" width="5.19" height="4.89" fill="#000"/><rect x="2000.20" y="64.86" width="5.19" height="5.19" rx="2.59" fill="#000"/><rect x="1985.53" y="20.85" width="5.19" height="5.19" rx="2.59" fill="#000"/><rect x="1970.86" y="30.63" width="5.19" height="5.19" rx="2.59" fill="#000"/><rect x="1970.86" y="33.23" width="5.19" height="4.89" fill="#000"/><rect x="2063.77" y="103.98" width="5.19" height="5.19" rx="2.59" fill="#000"/><rect x="2063.77" y="106.57" width="5.19" height="4.89" fill="#000"/><rect x="2049.10" y="113.76" width="5.19" height="5.19" rx="2.59" fill="#000"/><rect x="2049.10" y="116.35" width="5.19" height="4.89" fill="#000"/><rect x="2044.21" y="64.86" width="5.19" height="5.19" rx="2.59" fill="#000"/><rect x="2044.21" y="67.45" width="5.19" height="4.89" fill="#000"/><rect x="2029.54" y="74.64" width="5.19" height="5.19" rx="2.59" fill="#000"/><rect x="2014.87" y="30.63" width="5.19" height="5.19" rx="2.59" fill="#000"/><rect x="2017.46" y="30.63" width="4.89" height="5.19" fill="#000"/><rect x="2014.87" y="33.23" width="5.19" height="4.89" fill="#000"/><rect x="1985.53" y="147.99" width="5.19" height="5.19" rx="2.59" fill="#000"/><rect x="1988.12" y="147.99" width="4.89" height="5.19" fill="#000"/><rect x="2044.21" y="84.42" width="5.19" height="5.19" rx="2.59" fill="#000"/><rect x="2044.21" y="87.01" width="5.19" height="4.89" fill="#000"/><rect x="1975.90" y="69.90" width="44.01" height="44.01" fill="#f3d27e"/><rect x="2010.90" y="75.90" width="7" height="6" fill="#b5cf98" stroke="#7a9a6a" stroke-width="0.5" transform="rotate(-15 2013.90 75.90)"/><text x="1996.90" y="80.90" font-family="Liberation Sans" font-weight="700" font-size="9.5" fill="#e87a2c" stroke="#a04a18" stroke-width="0.4" text-anchor="middle" textLength="34" lengthAdjust="spacingAndGlyphs">STaPLe</text><path d="M1988.90,86.90 l15,-2 l3,3 l0,17 l-16,1 l-2,-3 z" fill="#a8aaa6" stroke="#4a4a4a" stroke-width="0.9"/><path d="M1989.90,86.90 l14,-2 l0,4 l-14,2 z" fill="#c8cac6" stroke="#4a4a4a" stroke-width="0.6"/><circle cx="1994.90" cy="93.90" r="0.9" fill="#222"/><circle cx="2000.90" cy="93.40" r="0.9" fill="#222"/><path d="M1993.90,97.90 q4,3 8,-1" fill="#e06a3a" stroke="#333" stroke-width="0.6"/><path d="M1993.90,104.90 l-2,5 M2001.90,104.90 l3,5" stroke="#555" stroke-width="1.5"/><path d="M1988.90,93.90 l-5,-6" stroke="#666" stroke-width="1.3"/><rect x="1977.90" y="95.90" width="8" height="6" fill="#b5cf98" stroke="#7a9a6a" stroke-width="0.5" transform="rotate(25 1981.90 98.90)"/><rect x="2005.90" y="88.90" width="9" height="12" fill="#b5cf98" stroke="#7a9a6a" stroke-width="0.5" transform="rotate(8 2009.90 94.90)"/><rect x="2005.90" y="104.90" width="8" height="5" fill="#b5cf98" stroke="#7a9a6a" stroke-width="0.5" transform="rotate(-20 2009.90 106.90)"/><ellipse cx="65.9" cy="60.6" rx="2.86" ry="3.38" fill="#6a4c9c"/><ellipse cx="73.9" cy="60.2" rx="2.86" ry="3.38" fill="#6a4c9c"/><ellipse cx="81.6" cy="62" rx="2.42" ry="2.86" fill="#6a4c9c"/><ellipse cx="87.8" cy="65" rx="2.20" ry="2.60" fill="#6a4c9c"/><ellipse cx="92.5" cy="69" rx="1.87" ry="2.21" fill="#6a4c9c"/><ellipse cx="96.2" cy="73.7" rx="1.87" ry="2.21" fill="#6a4c9c"/><ellipse cx="99.8" cy="77.3" rx="1.21" ry="1.43" fill="#6a4c9c"/><ellipse cx="102" cy="79.9" rx="0.99" ry="1.17" fill="#6a4c9c"/><ellipse cx="57.2" cy="62.4" rx="2.86" ry="3.38" fill="#6a4c9c"/><ellipse cx="49.2" cy="65.7" rx="2.97" ry="3.51" fill="#6a4c9c"/><ellipse cx="41.9" cy="70" rx="3.08" ry="3.64" fill="#6a4c9c"/><ellipse cx="37.9" cy="77.3" rx="3.08" ry="3.64" fill="#6a4c9c"/><ellipse cx="37.9" cy="85.7" rx="2.97" ry="3.51" fill="#6a4c9c"/><ellipse cx="47.3" cy="81.7" rx="2.53" ry="2.99" fill="#6a4c9c"/><ellipse cx="55" cy="84.3" rx="2.09" ry="2.47" fill="#6a4c9c"/><ellipse cx="60.5" cy="81" rx="1.87" ry="2.21" fill="#6a4c9c"/><ellipse cx="61.5" cy="71" rx="2.31" ry="2.73" fill="#6a4c9c"/><ellipse cx="69.6" cy="75.5" rx="1.87" ry="2.21" fill="#6a4c9c"/><ellipse cx="74.3" cy="68.6" rx="1.76" ry="2.08" fill="#6a4c9c"/><ellipse cx="80.1" cy="69.3" rx="1.65" ry="1.95" fill="#6a4c9c"/><ellipse cx="79.8" cy="74.4" rx="1.43" ry="1.69" fill="#6a4c9c"/><ellipse cx="85.6" cy="71.5" rx="1.54" ry="1.82" fill="#6a4c9c"/><ellipse cx="63.7" cy="77.7" rx="2.20" ry="2.60" fill="#6a4c9c"/><ellipse cx="52" cy="72" rx="2.20" ry="2.60" fill="#6a4c9c"/><ellipse cx="70" cy="66" rx="1.98" ry="2.34" fill="#6a4c9c"/><ellipse cx="90" cy="75" rx="1.32" ry="1.56" fill="#6a4c9c"/><ellipse cx="31.7" cy="82" rx="1.03" ry="0.95" fill="#8a5aa8"/><ellipse cx="30.2" cy="86.4" rx="1.38" ry="1.26" fill="#8c5ca8"/><ellipse cx="28" cy="92.3" rx="2.07" ry="1.89" fill="#8e5ea8"/><ellipse cx="26.9" cy="98.1" rx="2.53" ry="2.31" fill="#9061a9"/><ellipse cx="33.1" cy="97.4" rx="1.95" ry="1.78" fill="#9060a9"/><ellipse cx="39" cy="100.7" rx="1.61" ry="1.47" fill="#9162a9"/><ellipse cx="34.2" cy="102.5" rx="2.18" ry="1.99" fill="#9263a9"/><ellipse cx="27.3" cy="105.4" rx="2.88" ry="2.62" fill="#9364a9"/><ellipse cx="41.1" cy="105" rx="1.84" ry="1.68" fill="#9364a9"/><ellipse cx="36.4" cy="108.3" rx="2.30" ry="2.10" fill="#9465aa"/><ellipse cx="44.8" cy="108.7" rx="1.84" ry="1.68" fill="#9465aa"/><ellipse cx="29.5" cy="112.3" rx="2.99" ry="2.73" fill="#9566aa"/><ellipse cx="49.2" cy="112.3" rx="2.07" ry="1.89" fill="#9566aa"/><ellipse cx="53.9" cy="114.1" rx="1.72" ry="1.58" fill="#9667aa"/><ellipse cx="59.7" cy="117.4" rx="1.95" ry="1.78" fill="#9768aa"/><ellipse cx="32.8" cy="119.2" rx="3.10" ry="2.84" fill="#9869aa"/><ellipse cx="44.8" cy="118.1" rx="2.30" ry="2.10" fill="#9769aa"/><ellipse cx="38.6" cy="125.8" rx="3.22" ry="2.94" fill="#9a6cab"/><ellipse cx="60.5" cy="125" rx="2.53" ry="2.31" fill="#9a6cab"/><ellipse cx="45.9" cy="130.9" rx="3.22" ry="2.94" fill="#9c6eab"/><ellipse cx="53.5" cy="134.5" rx="3.10" ry="2.84" fill="#9d6fab"/><ellipse cx="61.5" cy="135.6" rx="3.10" ry="2.84" fill="#9e70ac"/><ellipse cx="69.2" cy="131.6" rx="2.99" ry="2.73" fill="#9c6eab"/><ellipse cx="37" cy="114" rx="2.30" ry="2.10" fill="#9667aa"/><ellipse cx="48" cy="124" rx="2.30" ry="2.10" fill="#9a6bab"/><ellipse cx="52" cy="120" rx="1.84" ry="1.68" fill="#986aaa"/><ellipse cx="31" cy="89" rx="1.38" ry="1.26" fill="#8d5da8"/><ellipse cx="40" cy="112" rx="2.07" ry="1.89" fill="#9566aa"/><path d="M41.9,70 L52,72 L61.5,71 L65.9,60.6" fill="none" stroke="#6a4c9c" stroke-width="1.3"/><path d="M52,72 L55,84.3" fill="none" stroke="#6a4c9c" stroke-width="1.3"/><path d="M61.5,71 L73.9,60.2" fill="none" stroke="#6a4c9c" stroke-width="1.3"/><path d="M69.6,75.5 L79.8,74.4 L87.8,65" fill="none" stroke="#6a4c9c" stroke-width="1.3"/><path d="M85.6,71.5 L96.2,73.7" fill="none" stroke="#6a4c9c" stroke-width="1.3"/><path d="M31.7,82 L30.2,86.4 L28,92.3 L33.1,97.4" fill="none" stroke="#9470a8" stroke-width="1.3"/><path d="M34.2,102.5 L41.1,105 L44.8,108.7" fill="none" stroke="#9470a8" stroke-width="1.3"/><path d="M29.5,112.3 L37,114 L44.8,118.1 L38.6,125.8" fill="none" stroke="#9470a8" stroke-width="1.3"/><path d="M44.8,118.1 L49.2,112.3 L53.9,114.1 L59.7,117.4" fill="none" stroke="#9470a8" stroke-width="1.3"/><path d="M48,124 L45.9,130.9 L53.5,134.5" fill="none" stroke="#9470a8" stroke-width="1.3"/></svg>
<div class="t" style="left:63.50px;top:85.72px;font-size:12.5px;color:#2f3036;transform:scaleX(1.0893);-webkit-text-stroke:0.35px #2f3036;">NEURAL INFORMATION</div>
<div class="t" style="left:63.50px;top:99.92px;font-size:12.5px;color:#2f3036;transform:scaleX(1.0374);-webkit-text-stroke:0.35px #2f3036;">PROCESSING SYSTEMS</div>
<div class="r" style="left:257px;top:31.5px;width:157px;height:134.5px;background:#2d2d2d;"></div>
<div class="r" style="left:268px;top:63.8px;width:136.5px;height:1.6px;background:#f0f0f0;"></div>
<div class="r" style="left:268px;top:132.3px;width:136.5px;height:1.6px;background:#f0f0f0;"></div>
<div class="t" style="left:267.50px;top:72.79px;font-size:26px;color:#ffffff;transform:scaleX(1.1413);">IBM</div>
<div class="t" style="left:267.00px;top:99.57px;font-size:26.5px;font-weight:700;color:#ffffff;transform:scaleX(1.1597);">Research</div>
</div></body></html>
